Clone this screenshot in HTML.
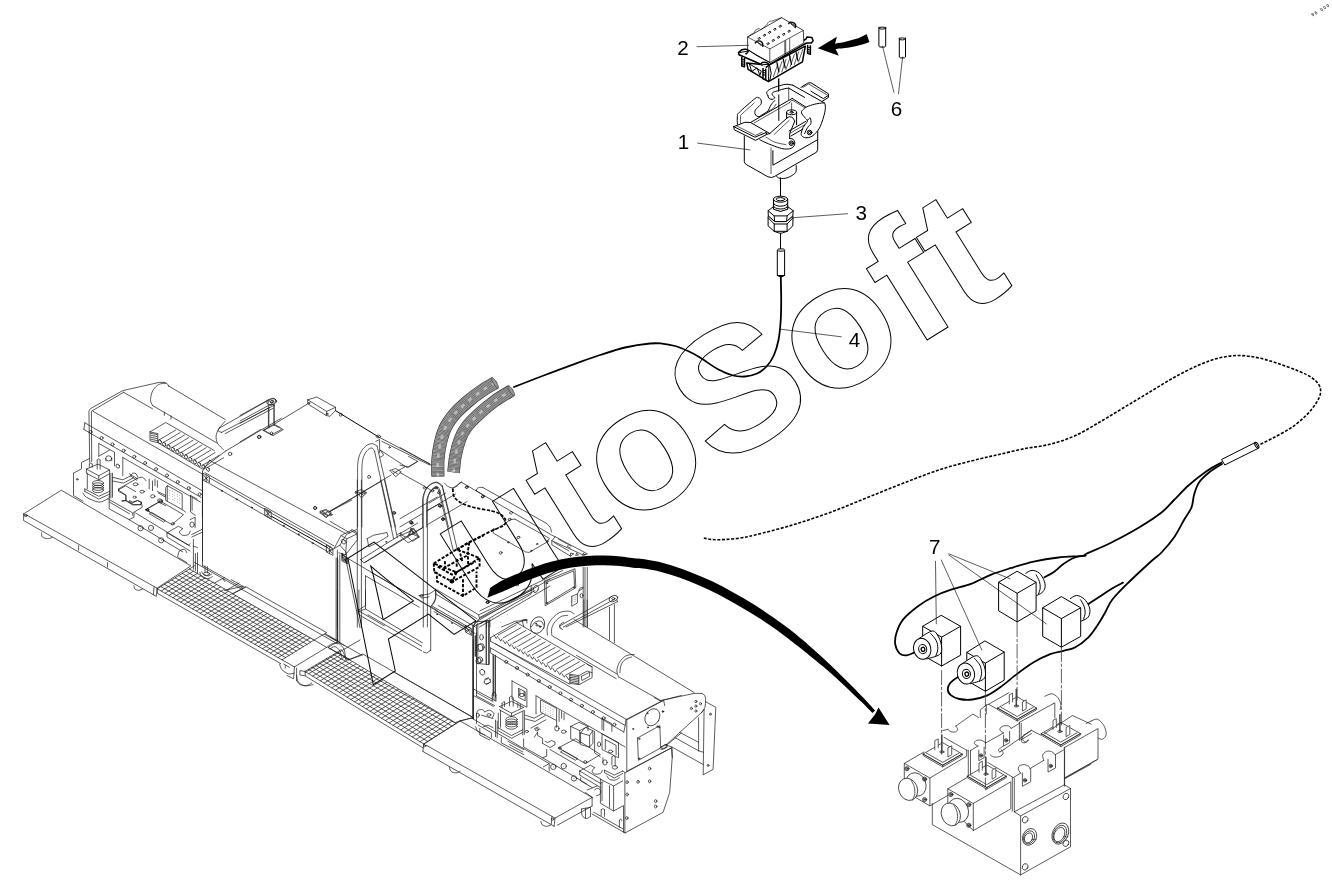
<!DOCTYPE html>
<html lang="en"><head><meta charset="utf-8"><title>Parts diagram</title><style>
html,body{margin:0;padding:0;background:#fff}
body{width:1332px;height:884px;overflow:hidden;font-family:"Liberation Sans",sans-serif}
svg{display:block;position:absolute;left:0;top:0;filter:grayscale(1)}
.t{fill:none;stroke:#1c1c1c;stroke-width:.72;stroke-linejoin:round;stroke-linecap:round}
.tw{fill:#fff;stroke:#1c1c1c;stroke-width:.72;stroke-linejoin:round}
.m{fill:none;stroke:#000;stroke-width:1;stroke-linejoin:round;stroke-linecap:round}
.mw{fill:#fff;stroke:#000;stroke-width:1;stroke-linejoin:round}
.c{fill:none;stroke:#000;stroke-width:1.8;stroke-linecap:round;stroke-linejoin:round}
.k{fill:#000;stroke:none}
.wm{fill:none;stroke:#000;stroke-width:1}
text{font-family:"Liberation Sans",sans-serif;fill:#000}
</style></head><body>
<svg width="1332" height="884" viewBox="0 0 1332 884">
<polyline class="t" points="89.7,462.5 88.9,411 90.6,408.5 122.8,390.6 159.1,382.4 164,382.4" />
<path class="t" d="M164,382.4C164.5,382.6 166.2,382.9 167,383.5C167.8,384.2 168.7,386 169,386.5" />
<polyline class="t" points="91.7,461.7 91.4,411.3 123.6,392.3" />
<polyline class="t" points="123.6,392.3 152.5,408.8" />
<polyline class="t" points="93,411.3 201.7,473.7" />
<polyline class="t" points="84.8,422.8 202.4,490.9" />
<polyline class="t" points="83.9,429.5 201.2,497.5" />
<polyline class="t" points="84.8,422.8 83.9,429.5" />
<circle class="t" cx="90.6" cy="431.9" r="1.5" />
<circle class="t" cx="101.6" cy="438" r="1.5" />
<circle class="t" cx="112.5" cy="444.3" r="1.5" />
<circle class="t" cx="123.6" cy="450.6" r="1.5" />
<circle class="t" cx="134.3" cy="456.7" r="1.5" />
<circle class="t" cx="145.1" cy="463" r="1.5" />
<circle class="t" cx="156.1" cy="469.1" r="1.5" />
<circle class="t" cx="167" cy="475.4" r="1.5" />
<circle class="t" cx="177.8" cy="482" r="1.5" />
<circle class="t" cx="188.8" cy="488.1" r="1.5" />
<circle class="t" cx="199.6" cy="494.2" r="1.5" />
<path class="t" d="M152.5,405.5C152.2,404.5 150.4,402.2 150.5,399.7C150.6,397.3 151.4,393.2 152.8,390.6C154.2,388.1 156.6,385.8 158.8,384.5C160.9,383.3 164.5,383.4 165.7,383.2" />
<polyline class="t" points="152.5,405.5 216.9,443" />
<polyline class="t" points="168.2,385.7 225.2,419.5" />
<path class="t" d="M225.2,421.2C224.1,422.4 220.4,426.2 218.9,428.6C217.4,431.1 216.3,433.6 216.1,436.1C215.9,438.5 216.5,441.2 217.7,443.5C219,445.8 222.5,448.6 223.5,449.6" />
<polyline class="t" points="164.4,412.1 164.4,415.4" />
<polyline class="t" points="171,415.9 171,419.2" />
<polyline class="t" points="219.4,428.1 268.4,400.2" />
<polyline class="t" points="221.5,432.4 274.7,405" />
<polyline class="t" points="225.2,433.6 273,408.3" />
<path class="t" d="M219.4,428.1C219.2,428.6 217.9,430.1 218.2,430.8C218.6,431.5 221,432.2 221.5,432.4" />
<ellipse class="t" cx="271.9" cy="401.7" rx="4.3" ry="2.8" transform="rotate(-30 271.9 401.7)" />
<ellipse class="t" cx="271.9" cy="401.7" rx="1.6" ry="1" transform="rotate(-30 271.9 401.7)" />
<polyline class="t" points="268.9,408.3 268.9,427.8" />
<polyline class="t" points="274.2,405.5 274.2,425.3" />
<polyline class="t" points="264,430.3 274.7,424.5 280,427.3" />
<polyline class="t" points="264,430.3 271.7,434.7 281.3,429.5" />
<polyline class="t" points="150,431.9 165.7,422.5 214.4,450.6" />
<polyline class="t" points="150,431.9 150,440.7 157.8,442.7 157.8,433.6 150,431.9" />
<polyline class="t" points="150.8,433.3 157.4,434.7" />
<polyline class="t" points="150.8,435.2 157.4,436.7" />
<polyline class="t" points="150.8,437.2 157.4,438.7" />
<polyline class="t" points="150.8,439.2 157.4,440.7" />
<polyline class="t" points="159.1,440 175.6,430.1" />
<ellipse class="t" cx="159.8" cy="441.7" rx="1.4" ry="2.2" transform="rotate(-30 159.8 441.7)" />
<polyline class="t" points="163.5,442.5 180,432.6" />
<ellipse class="t" cx="164.1" cy="444.2" rx="1.4" ry="2.2" transform="rotate(-30 164.1 444.2)" />
<polyline class="t" points="167.8,445 184.4,435.1" />
<ellipse class="t" cx="168.5" cy="446.7" rx="1.4" ry="2.2" transform="rotate(-30 168.5 446.7)" />
<polyline class="t" points="172.2,447.6 188.7,437.6" />
<ellipse class="t" cx="172.9" cy="449.2" rx="1.4" ry="2.2" transform="rotate(-30 172.9 449.2)" />
<polyline class="t" points="176.6,450.1 193.1,440.2" />
<ellipse class="t" cx="177.3" cy="451.7" rx="1.4" ry="2.2" transform="rotate(-30 177.3 451.7)" />
<polyline class="t" points="181,452.6 197.5,442.7" />
<ellipse class="t" cx="181.6" cy="454.2" rx="1.4" ry="2.2" transform="rotate(-30 181.6 454.2)" />
<polyline class="t" points="185.4,455.1 201.9,445.2" />
<ellipse class="t" cx="186" cy="456.7" rx="1.4" ry="2.2" transform="rotate(-30 186 456.7)" />
<polyline class="t" points="189.7,457.6 206.2,447.7" />
<ellipse class="t" cx="190.4" cy="459.2" rx="1.4" ry="2.2" transform="rotate(-30 190.4 459.2)" />
<polyline class="t" points="194.1,460.1 210.6,450.2" />
<ellipse class="t" cx="194.8" cy="461.8" rx="1.4" ry="2.2" transform="rotate(-30 194.8 461.8)" />
<polyline class="t" points="198.5,462.6 215,452.7" />
<ellipse class="t" cx="199.1" cy="464.3" rx="1.4" ry="2.2" transform="rotate(-30 199.1 464.3)" />
<polyline class="t" points="202.9,465.1 219.4,455.2" />
<ellipse class="t" cx="203.5" cy="466.8" rx="1.4" ry="2.2" transform="rotate(-30 203.5 466.8)" />
<polyline class="t" points="207.2,467.6 223.7,457.7" />
<ellipse class="t" cx="207.9" cy="469.3" rx="1.4" ry="2.2" transform="rotate(-30 207.9 469.3)" />
<polyline class="t" points="157.8,442.7 202.4,469.1" />
<polyline class="t" points="203.7,467.8 225.2,451.3" />
<polyline class="t" points="225.2,451.3 260.7,430.3 281.3,418.2" />
<polyline class="t" points="202.4,473.2 202.4,517" />
<circle class="t" cx="230.1" cy="453.9" r="1.7" />
<circle class="t" cx="259.3" cy="436.9" r="1.7" />
<polyline class="t" points="98.8,443.5 98.8,456.2" />
<polyline class="t" points="98.8,443.5 114.5,452.2 114.5,465.8" />
<polyline class="t" points="122.8,457.5 122.8,475.7" />
<polyline class="t" points="122.8,457.5 200.4,502.1" />
<polyline class="t" points="98.8,456.2 109.5,450.1" />
<ellipse class="t" cx="108.7" cy="458.4" rx="3" ry="2.6" transform="rotate(0 108.7 458.4)" />
<polyline class="t" points="105.9,458.4 105.9,460.8" />
<polyline class="t" points="111.7,458.4 111.7,460.8" />
<ellipse class="t" cx="117.8" cy="466.1" rx="1.6" ry="2.2" transform="rotate(-30 117.8 466.1)" />
<polyline class="t" points="73.5,473.2 73.5,495.5 83.1,501.3" />
<polyline class="t" points="73.5,473.2 81.5,468.8 81.5,462.5 89.7,458.4" />
<circle class="t" cx="77.3" cy="479.3" r="0.8" />
<polyline class="t" points="97.2,460 97.2,469.1" />
<polyline class="t" points="100.1,460 100.1,469.1" />
<path class="t" d="M97.2,460C97.4,459.8 98.2,458.9 98.6,458.9C99.1,458.9 99.9,459.8 100.1,460" />
<polyline class="t" points="89.4,464.1 89.4,467.4" />
<polyline class="t" points="92.2,464.1 92.2,467.4" />
<path class="t" d="M89.4,464.1C89.6,464 90.3,463.1 90.7,463.1C91.2,463.1 92,464 92.2,464.1" />
<polyline class="t" points="86.4,469.1 98.8,475.7 109.5,469.9 98,464.1 86.4,469.1" />
<polyline class="t" points="86.4,469.1 86.4,473.2 98.8,479.8 109.5,473.7 109.5,469.9" />
<polyline class="t" points="98.8,475.7 98.8,479.8" />
<ellipse class="t" cx="98" cy="483.1" rx="5.5" ry="2.6" transform="rotate(0 98 483.1)" />
<ellipse class="t" cx="98" cy="485.4" rx="5.5" ry="2.6" transform="rotate(0 98 485.4)" />
<ellipse class="t" cx="98" cy="487.8" rx="5.5" ry="2.6" transform="rotate(0 98 487.8)" />
<ellipse class="t" cx="98" cy="490.1" rx="5.5" ry="2.6" transform="rotate(0 98 490.1)" />
<polyline class="t" points="87.3,473.2 87.3,488.9" />
<polyline class="t" points="109.5,474 109.5,497.2" />
<polyline class="t" points="110.9,473.2 110.9,498" />
<polyline class="t" points="112.5,473.2 112.5,497.2" />
<polyline class="t" points="84.8,488.9 98.8,496.3 109.5,491.4" />
<polyline class="t" points="84.8,491.4 98.8,499.1 109.5,494.2" />
<polyline class="t" points="84.8,488.9 84.8,491.4" />
<path class="t" d="M83.1,493C83.7,493.7 83.8,495.7 86.4,497.2C89,498.7 95.2,501.8 98.8,502.1C102.4,502.4 106.4,499.4 107.9,498.8" />
<polyline class="t" points="112.5,477.3 122.8,479.8 131,475.7" />
<polyline class="t" points="112.5,481 123.6,483.1 133.5,477.7" />
<path class="t" d="M131,475.7C131.3,475.3 131.8,473.6 132.7,473.2C133.5,472.9 135.1,473.2 136,473.7C136.8,474.3 137.3,476.1 137.6,476.5" />
<polyline class="t" points="129.4,473.7 137.6,479" />
<polyline class="t" points="130.2,475.7 136.8,480.3" />
<polyline class="t" points="118.6,488.9 137.6,478.2" />
<polyline class="t" points="118.6,488.9 118.6,491.4 126.1,495.5 126.1,500.5 121.9,500.5" />
<polyline class="t" points="126.1,500.5 133.5,504.6 140.9,504.6 141.3,502.1 137.6,500.5 132.7,502.1 129.4,500.5" />
<path class="t" d="M137.6,478.2C138.4,478 141.2,476.9 142.6,477.3C144,477.8 145.3,480.1 145.9,480.7" />
<polyline class="t" points="107.9,498.8 132.7,512.9 132.7,515.3" />
<polyline class="t" points="109.5,502.1 129.4,513.7" />
<ellipse class="t" cx="142.1" cy="491.7" rx="2.2" ry="1.4" transform="rotate(0 142.1 491.7)" />
<ellipse class="t" cx="134.6" cy="497.2" rx="1.6" ry="1.1" transform="rotate(0 134.6 497.2)" />
<ellipse class="t" cx="135.6" cy="484.3" rx="2.4" ry="1.5" transform="rotate(0 135.6 484.3)" />
<polyline class="t" points="149.2,479 149.2,488.9" />
<polyline class="t" points="152.5,481 152.5,490.6" />
<polyline class="t" points="155,479 155,485.6" />
<polyline class="t" points="157.4,480.7 157.4,487.3" />
<ellipse class="t" cx="152.8" cy="496.3" rx="2.2" ry="1.6" transform="rotate(0 152.8 496.3)" />
<ellipse class="t" cx="159.9" cy="500.5" rx="2.4" ry="1.6" transform="rotate(0 159.9 500.5)" />
<polyline class="t" points="157.4,491.4 165.7,495.5" />
<polyline class="t" points="158.3,493 165.7,497.2" />
<polyline class="t" points="167.3,485.6 182.2,493.9 182.2,509.6 167.3,501.3 167.3,485.6 165.7,487.6 165.7,500.5 167.3,501.3" />
<circle class="k" cx="169.8" cy="490.2" r="0.3" />
<circle class="k" cx="169.8" cy="492.9" r="0.3" />
<circle class="k" cx="169.8" cy="495.5" r="0.3" />
<circle class="k" cx="169.8" cy="498.2" r="0.3" />
<circle class="k" cx="172.3" cy="491.6" r="0.3" />
<circle class="k" cx="172.3" cy="494.2" r="0.3" />
<circle class="k" cx="172.3" cy="496.8" r="0.3" />
<circle class="k" cx="172.3" cy="499.5" r="0.3" />
<circle class="k" cx="174.8" cy="492.9" r="0.3" />
<circle class="k" cx="174.8" cy="495.5" r="0.3" />
<circle class="k" cx="174.8" cy="498.2" r="0.3" />
<circle class="k" cx="174.8" cy="500.8" r="0.3" />
<circle class="k" cx="177.3" cy="494.2" r="0.3" />
<circle class="k" cx="177.3" cy="496.8" r="0.3" />
<circle class="k" cx="177.3" cy="499.5" r="0.3" />
<circle class="k" cx="177.3" cy="502.1" r="0.3" />
<circle class="k" cx="179.7" cy="495.5" r="0.3" />
<circle class="k" cx="179.7" cy="498.2" r="0.3" />
<circle class="k" cx="179.7" cy="500.8" r="0.3" />
<circle class="k" cx="179.7" cy="503.4" r="0.3" />
<polyline class="t" points="182.2,509.6 185.5,512" />
<polyline class="t" points="190.5,495.5 190.5,512 195.4,515.3" />
<polyline class="t" points="190.5,495.5 197.1,499.1" />
<polyline class="t" points="192.1,498 192.1,510.4" />
<polyline class="t" points="145.9,509.6 159.1,502.1 165.7,505.8" />
<polyline class="t" points="145.9,509.6 150,512" />
<circle class="t" cx="147.9" cy="509.6" r="0.8" />
<polyline class="t" points="23.6,513.9 61.3,490.2 190.9,565.9 157.1,588.2 27.4,515.5" />
<path class="t" d="M27.4,515.5C27,515.5 25.6,515.5 25,515.2C24.3,514.9 23.9,514.1 23.6,513.9" />
<polyline class="t" points="23.6,513.9 23.6,520.5 156.3,596.4 157.1,588.2" />
<polyline class="t" points="154.1,587 153.4,594.8" />
<ellipse class="t" cx="25.8" cy="515.5" rx="1.6" ry="1.1" transform="rotate(0 25.8 515.5)" />
<path class="t" d="M41.5,532.8C41.6,533.5 41.3,536 42.3,537C43.3,537.9 45.6,538.5 47.3,538.6C48.9,538.7 51.4,537.7 52.2,537.5" />
<path class="t" d="M134,585.7C134.1,586.2 134,588.2 134.8,589C135.6,589.8 137.6,590.3 138.9,590.3C140.2,590.3 141.9,589.2 142.5,589" />
<polyline class="t" points="78.6,545.7 78.6,550.2" />
<polyline class="t" points="107.5,562.6 107.5,567.2" />
<polyline class="t" points="109.2,496.5 109.2,508.9 129,519.6 134,517.2 134,512.2" />
<polyline class="t" points="118.3,489.9 125.7,485.8 135.6,491.6" />
<polyline class="t" points="118.3,489.9 125.7,494.9 125.7,500.6 122.4,501.5" />
<polyline class="t" points="125.7,500.6 132.3,504.8 140.6,504.8 141.4,502.3 137.3,500.6 132.3,503.1 129,501.5" />
<polyline class="t" points="134,512.2 142.2,507.3 141.4,502.3" />
<polyline class="t" points="135.6,513 190.1,546.1" />
<polyline class="t" points="129,519.6 182.7,551.8" />
<polyline class="t" points="145.5,509.7 160.4,501.1 183.5,514.7 171.9,524.6 145.5,509.7" />
<polyline class="t" points="149.6,513.9 163.7,522.1 165.3,520.5 151.3,512.2 149.6,513.9" />
<ellipse class="t" cx="140.6" cy="528.2" rx="2.6" ry="2.6" transform="rotate(0 140.6 528.2)" />
<ellipse class="t" cx="151" cy="527.9" rx="2.6" ry="2.6" transform="rotate(0 151 527.9)" />
<ellipse class="t" cx="161.2" cy="540.3" rx="2.6" ry="2.6" transform="rotate(0 161.2 540.3)" />
<circle class="k" cx="140.6" cy="528.2" r="0.4" />
<circle class="k" cx="151" cy="527.9" r="0.4" />
<circle class="k" cx="161.2" cy="540.3" r="0.4" />
<ellipse class="t" cx="160.4" cy="501.5" rx="2" ry="1.4" transform="rotate(0 160.4 501.5)" />
<ellipse class="t" cx="172.8" cy="523.8" rx="1.6" ry="1.2" transform="rotate(0 172.8 523.8)" />
<ellipse class="t" cx="147.5" cy="510.1" rx="1.3" ry="1" transform="rotate(0 147.5 510.1)" />
<polyline class="t" points="167,532.8 178.5,526.2 182.7,528.7" />
<path class="t" d="M182.7,528.7C182.1,529.3 179.4,530.9 179.4,532C179.4,533.1 181.2,534.9 182.7,535.3C184.2,535.7 187.2,535.2 188.5,534.5C189.7,533.8 189.8,531.7 190.1,531.2" />
<polyline class="t" points="167,532.8 167,537 190.1,551" />
<polyline class="t" points="167,532.8 188.5,545.2 190.1,543.6" />
<path class="t" d="M177.7,556.8C178,555.8 178.3,552.3 179.4,551C180.5,549.8 183.1,549.1 184.3,549.4C185.6,549.6 186.4,552.1 186.8,552.7" />
<polyline class="t" points="178.5,557.6 186.8,562.6" />
<polyline class="t" points="202.5,480 202.5,566.2" />
<polyline class="t" points="197.5,552.7 197.5,572.5" />
<polyline class="t" points="195.4,553.5 195.4,570.8" />
<polyline class="t" points="193.4,546.1 193.4,569.2" />
<ellipse class="t" cx="192.1" cy="524.6" rx="2.2" ry="2.6" transform="rotate(0 192.1 524.6)" />
<polyline class="t" points="190.1,519.6 195.1,517.2 195.1,527.9" />
<polyline class="t" points="191.8,534.5 201.7,529.5" />
<polyline class="t" points="191.8,537 201.7,532.5" />
<polyline class="t" points="193.4,539.5 193.4,546.1 197.5,547.7" />
<path class="t" d="M200,572.5C200.3,573.2 200.4,575.6 201.7,576.6C202.9,577.7 205.7,578.8 207.4,578.8C209.2,578.8 211.6,577 212.4,576.6" />
<path class="t" d="M201.7,571.7C202.1,572.2 203,574.3 204.1,575C205.2,575.7 207,575.9 208.3,575.8C209.5,575.7 211,574.4 211.6,574.1" />
<ellipse class="t" cx="206.6" cy="573.8" rx="3" ry="1.6" transform="rotate(0 206.6 573.8)" />
<polyline class="t" points="205,565.9 205,572.5" />
<polyline class="t" points="207.4,566.7 207.4,572.8" />
<polyline class="t" points="214.1,583.2 224.8,577.4" />
<polyline class="t" points="222.8,578.8 224.8,581.6" />
<polyline class="t" points="240,415.5 268.9,399.5" />
<polyline class="t" points="240,421 272.2,403.5" />
<polyline class="t" points="240,423.3 269.7,407.3" />
<ellipse class="t" cx="271.7" cy="401.8" rx="5" ry="3" transform="rotate(-10 271.7 401.8)" />
<ellipse class="t" cx="271.7" cy="401.8" rx="1.8" ry="1.1" transform="rotate(0 271.7 401.8)" />
<polyline class="t" points="268.4,406.4 268.4,426.2" />
<polyline class="t" points="273.9,404.8 273.9,423.8" />
<polyline class="t" points="263.1,430.4 273,424.6 283.3,429.5 273,435.7 263.1,430.4" />
<circle class="t" cx="271.4" cy="433.2" r="1.3" />
<polyline class="t" points="240,441.9 260.6,429.5" />
<polyline class="t" points="274.7,423.8 307.7,403.9" />
<polyline class="t" points="307.7,399.8 316.8,397 335.5,407.3 326.7,411.4 307.7,399.8" />
<polyline class="t" points="307.7,399.8 307.7,403.9 326.2,415.5 326.7,411.4" />
<polyline class="t" points="335.5,407.3 335.5,410.6 330,416.3 326.2,415.5" />
<circle class="t" cx="309" cy="403.1" r="0.8" />
<circle class="t" cx="327.2" cy="413.9" r="0.8" />
<polyline class="m" points="335.5,410.6 378.7,437" />
<polyline class="t" points="378.7,437 429.6,463.7" />
<polyline class="t" points="382,441.4 429.9,465.1" />
<circle class="t" cx="340.7" cy="414.7" r="1.5" />
<ellipse class="t" cx="378.4" cy="436.5" rx="2.2" ry="1.4" transform="rotate(0 378.4 436.5)" />
<polyline class="t" points="329.2,512.1 391.1,475" />
<polyline class="t" points="398.5,470.5 405.2,466.7" />
<polyline class="t" points="320.1,511.3 325.9,509.3 331.3,512.6 325.9,517.6 320.1,511.3" />
<polyline class="t" points="322.6,511.6 327.5,514.6" />
<polyline class="t" points="323.4,514.3 328.4,511.3" />
<polyline class="t" points="355.6,491.5 361.4,489.5 366.8,492.8 361.4,497.8 355.6,491.5" />
<polyline class="t" points="358.1,491.8 363,494.8" />
<polyline class="t" points="358.9,494.5 363.9,491.5" />
<polyline class="t" points="390,470.5 395.7,468.5 401.2,471.8 395.7,476.8 390,470.5" />
<polyline class="t" points="392.4,470.8 397.4,473.8" />
<polyline class="t" points="393.3,473.5 398.2,470.5" />
<polyline class="t" points="380.4,450.2 407.1,467.5 418,461.3" />
<polyline class="t" points="380.4,450.2 383.7,455.1 379.6,457.6" />
<polyline class="t" points="379.6,440.3 379.6,452.7" />
<polyline class="t" points="375.8,441.4 379.6,439.5" />
<circle class="t" cx="389.5" cy="447.4" r="0.7" />
<circle class="t" cx="259" cy="437" r="1.5" />
<circle class="t" cx="369.1" cy="476.9" r="1.5" />
<circle class="t" cx="315.1" cy="508" r="1.5" />
<circle class="t" cx="393.9" cy="512.9" r="1.5" />
<circle class="t" cx="410.9" cy="522.4" r="1.5" />
<circle class="t" cx="443.1" cy="519.1" r="1.5" />
<circle class="t" cx="439.8" cy="505.8" r="1.5" />
<path class="t" d="M357.6,527C357.6,519 357.5,489.8 357.6,479.1C357.6,468.4 357.4,467 357.9,462.6C358.4,458.2 359.2,455.4 360.6,452.7C361.9,449.9 363.9,447.6 365.8,446.1C367.8,444.5 370.3,443.6 372.1,443.6C374,443.6 376.3,445.6 377.1,446.1" />
<polyline class="t" points="377.1,446.1 395.6,527" />
<path class="t" d="M361.9,527C361.9,519 361.8,489.7 361.9,479.1C361.9,468.5 361.8,467.4 362.2,463.4C362.6,459.4 363.2,457.4 364.2,455.1C365.2,452.9 366.7,450.9 368,449.7C369.3,448.5 371,447.8 372.1,448C373.2,448.3 374.2,450.8 374.6,451.3" />
<polyline class="t" points="374.6,451.3 391.4,527" />
<path class="t" d="M422.5,527C422.5,523.4 422.4,510.7 422.5,505.5C422.6,500.3 422.4,498.9 423.3,495.6C424.3,492.4 426.1,488.3 428.3,486C430.5,483.8 434.2,482.1 436.5,482.1C438.9,482 441.3,485.1 442.3,485.7" />
<polyline class="t" points="442.3,485.7 452.6,527" />
<path class="t" d="M426.6,527C426.6,523.5 426.5,511.2 426.6,506.3C426.8,501.5 426.6,500.8 427.4,498.1C428.3,495.4 429.9,492.2 431.6,490.3C433.2,488.4 436,486.7 437.4,486.7C438.7,486.7 439.4,489.7 439.8,490.3" />
<polyline class="t" points="439.8,490.3 448.4,527" />
<path class="t" d="M429.9,492.3C430.5,491.8 432,489.7 433.2,489C434.5,488.3 436.7,488.3 437.4,488.2" />
<polyline class="t" points="203.1,565.7 337.7,641.7" />
<polyline class="t" points="337.7,559.5 337.7,641.7" />
<polyline class="t" points="336.1,558.1 336.1,640.4" />
<polyline class="t" points="224.6,590.5 242.8,586.2" />
<polyline class="t" points="231.2,579.6 338.5,641.2" />
<polyline class="t" points="334.4,547.9 341,535.5 350.9,530.6 357,533.9 357.5,539.6 345.5,554.8 338.9,552.8" />
<polyline class="t" points="341,535.5 346.8,538.8 357,533.9" />
<polyline class="t" points="346.8,538.8 345.5,554.8" />
<ellipse class="t" cx="343.5" cy="541.6" rx="1.8" ry="2.6" transform="rotate(-30 343.5 541.6)" />
<polyline class="t" points="350.9,530.6 351.8,529.4 357.5,532.7" />
<polyline class="t" points="341.8,554.5 347.6,557.8 347.6,564.1 341.8,560.8 341.8,554.5" />
<polyline class="t" points="342.7,556.2 346.8,562.4" />
<polyline class="t" points="342.7,560.8 346.8,557.8" />
<circle class="t" cx="315.1" cy="507.9" r="1.5" />
<polyline class="t" points="320,512.9 325.3,510.2 331.1,514 326.2,517.3 320,512.9" />
<polyline class="t" points="322.4,512.9 327.8,515.7" />
<polyline class="t" points="329.5,511.6 351.8,500" />
<polyline class="t" points="209.7,460.4 346.1,533.7" />
<polyline class="t" points="204.9,472.6 333.9,545.9" />
<polyline class="t" points="209.7,478 331.2,547.2" />
<polyline class="t" points="210.4,484.1 327.1,551.3" />
<polyline class="m" points="271.4,516.3 327.1,547.5" />
<polyline class="t" points="202.9,473.3 209.4,476.6 209.4,483.4 202.9,480 202.9,473.3" />
<polyline class="t" points="203.7,475.2 208.6,481.4" />
<polyline class="t" points="203.7,480 208.6,476.8" />
<polyline class="t" points="206.2,474.9 206.2,481.7" />
<polyline class="t" points="264.7,508.5 271.2,511.9 271.2,518.7 264.7,515.3 264.7,508.5" />
<polyline class="t" points="265.5,510.4 270.4,516.7" />
<polyline class="t" points="265.5,515.3 270.4,512.1" />
<polyline class="t" points="267.9,510.2 267.9,517" />
<polyline class="t" points="326.4,545.2 332.9,548.6 332.9,555.4 326.4,552 326.4,545.2" />
<polyline class="t" points="327.2,547.1 332.1,553.3" />
<polyline class="t" points="327.2,552 332.1,548.7" />
<polyline class="t" points="329.7,546.8 329.7,553.6" />
<circle class="t" cx="221.9" cy="490.9" r="0.6" />
<circle class="t" cx="236.8" cy="499.3" r="0.6" />
<circle class="t" cx="251.8" cy="507.5" r="0.6" />
<circle class="t" cx="283.7" cy="525.9" r="0.6" />
<circle class="t" cx="298.6" cy="534.3" r="0.6" />
<circle class="t" cx="312.8" cy="543.2" r="0.6" />
<polyline class="t" points="202.5,471.2 202.5,560.8" />
<polyline class="t" points="202.5,471.2 209.7,460.4" />
<polyline class="t" points="357.3,480 357.3,627" />
<polyline class="t" points="361.4,480 361.4,627" />
<polyline class="t" points="380.4,480 393.6,538.6" />
<polyline class="t" points="384.5,480 397.4,537.8" />
<polyline class="t" points="367.2,538.6 373.3,535.3 387,532.5 388.1,536.2 379.5,541.4 368.8,546.9 367.2,538.6" />
<polyline class="t" points="360.6,559.6 401,534.5 405.6,537.1 363.9,562.9 360.6,559.6" />
<polyline class="t" points="401,534.5 401,532.5 397.4,534.5" />
<polyline class="t" points="407.6,537 410.9,528.7 414.2,529.5 419.2,537 412.6,541.4 407.6,537" />
<polyline class="t" points="410.9,528.7 413.4,534.5 419.2,537" />
<ellipse class="t" cx="386.2" cy="541.9" rx="0.6" ry="0.5" transform="rotate(0 386.2 541.9)" />
<path class="t" d="M423.3,627C423.3,608 423.3,534.8 423.3,513C423.4,491.3 423,500.8 423.6,496.5C424.3,492.2 425.4,489.8 427.4,487.4C429.4,485.1 433.2,482.6 435.7,482.5C438.2,482.3 441.2,485.9 442.3,486.6" />
<polyline class="t" points="442.3,486.6 457.5,550.2" />
<path class="t" d="M427.4,627C427.4,608 427.4,534.5 427.4,513C427.5,491.6 427.2,501.9 427.8,498.2C428.3,494.5 429.4,492.6 430.7,490.7C432.1,488.9 434.4,487 435.7,486.9C437,486.9 438,489.7 438.5,490.2" />
<polyline class="t" points="438.5,490.2 453.5,551.3" />
<polyline class="t" points="419.2,595.6 429.1,594 435.7,589.8" />
<polyline class="t" points="419.2,595.6 421.7,598.1 429.1,596.9" />
<polyline class="t" points="431.6,605.5 435.7,598.9 435.7,589" />
<polyline class="t" points="330,511 380.4,481.7" />
<polyline class="t" points="330,521.3 349.8,532.8" />
<polyline class="t" points="349.8,532.8 356.4,529.5" />
<polyline class="t" points="330,551 339.9,545.2 346.5,534.5 349.8,532.8" />
<polyline class="t" points="339.9,545.2 346.5,552.7" />
<polyline class="t" points="364.7,562.6 422.5,527.9" />
<polyline class="t" points="405.6,537.1 423.3,527.1" />
<polyline class="t" points="427.4,524.6 467.1,501.5" />
<polyline class="t" points="427.4,510.6 455.5,494" />
<polyline class="t" points="429.1,503.1 445.6,493.2" />
<ellipse class="t" cx="443.1" cy="519.3" rx="1.3" ry="1" transform="rotate(0 443.1 519.3)" />
<ellipse class="t" cx="411.8" cy="523.3" rx="1.3" ry="1" transform="rotate(0 411.8 523.3)" />
<ellipse class="t" cx="394.4" cy="513" rx="1.3" ry="1" transform="rotate(0 394.4 513)" />
<ellipse class="t" cx="330.8" cy="514.7" rx="1.3" ry="1" transform="rotate(0 330.8 514.7)" />
<ellipse class="t" cx="356.4" cy="492.9" rx="1.3" ry="1" transform="rotate(0 356.4 492.9)" />
<ellipse class="t" cx="363.9" cy="492.9" rx="1.3" ry="1" transform="rotate(0 363.9 492.9)" />
<ellipse class="t" cx="439.8" cy="505.6" rx="1.3" ry="1" transform="rotate(0 439.8 505.6)" />
<polyline class="t" points="475.3,622.4 550,579.1" />
<polyline class="t" points="479.5,627 550,586" />
<polyline class="t" points="435.7,594 477,618.7" />
<polyline class="t" points="346.5,557.6 475.3,633.6" />
<polyline class="t" points="337.4,557.6 337.4,627" />
<polyline class="t" points="346.5,554.3 346.5,559.3" />
<polyline class="t" points="342.4,554.3 346.5,557.6 346.5,562.6 342.4,559.3 342.4,554.3" />
<polyline class="t" points="358.1,610.5 384.5,626" />
<polyline class="t" points="365.5,575.8 365.5,605.5 358.1,610.5" />
<polyline class="t" points="365.5,575.8 419.2,607.2" />
<polyline class="t" points="435.7,610.5 465.4,627" />
<polyline class="t" points="438.2,605.5 475.3,627" />
<ellipse class="t" cx="487.7" cy="602.2" rx="1.4" ry="1.1" transform="rotate(0 487.7 602.2)" />
<ellipse class="t" cx="421.7" cy="595.6" rx="1.4" ry="1.1" transform="rotate(0 421.7 595.6)" />
<polyline class="t" points="371.3,572.5 437.3,610.5" />
<ellipse class="t" cx="487.4" cy="602.2" rx="1.3" ry="1" transform="rotate(0 487.4 602.2)" />
<ellipse class="t" cx="517.2" cy="584.9" rx="1.3" ry="1" transform="rotate(0 517.2 584.9)" />
<polyline class="t" points="480,610.8 562.6,570.5" />
<polyline class="t" points="480,617.4 533.2,587.7" />
<polyline class="t" points="531.2,585.7 531.2,594 480,623.7" />
<polyline class="t" points="583.2,567.5 583.2,627" />
<polyline class="t" points="587.3,567.5 587.3,627" />
<polyline class="t" points="585,567.5 585,627" />
<polyline class="t" points="544.4,581.1 575,568.7 575.8,587.7 545.2,605.8 544.4,581.1" />
<polyline class="t" points="546.1,582.4 573.8,570.8 574.5,586.5 546.6,603.5 546.1,582.4" />
<ellipse class="t" cx="546.9" cy="583.2" rx="0.8" ry="0.6" transform="rotate(0 546.9 583.2)" />
<ellipse class="t" cx="574.1" cy="587.3" rx="0.8" ry="0.6" transform="rotate(0 574.1 587.3)" />
<ellipse class="t" cx="546.6" cy="603" rx="0.8" ry="0.6" transform="rotate(0 546.6 603)" />
<ellipse class="t" cx="535.8" cy="589" rx="2.4" ry="3.8" transform="rotate(25 535.8 589)" />
<polyline class="t" points="571.7,596.4 577.4,594 579.1,590.7 583.2,588.2" />
<polyline class="t" points="571.7,596.4 571.7,606.3 577.4,603 577.4,594" />
<ellipse class="t" cx="581.6" cy="595.6" rx="1.5" ry="2.2" transform="rotate(0 581.6 595.6)" />
<circle class="k" cx="572.8" cy="598.1" r="0.3" />
<circle class="k" cx="572.8" cy="600.1" r="0.3" />
<circle class="k" cx="572.8" cy="602" r="0.3" />
<circle class="k" cx="574.1" cy="597.6" r="0.3" />
<circle class="k" cx="574.1" cy="599.6" r="0.3" />
<circle class="k" cx="574.1" cy="601.6" r="0.3" />
<circle class="k" cx="575.5" cy="597.1" r="0.3" />
<circle class="k" cx="575.5" cy="599.1" r="0.3" />
<circle class="k" cx="575.5" cy="601.1" r="0.3" />
<path class="t" d="M579.1,590.7C579.2,590.2 579.2,588.7 579.9,588.2C580.6,587.6 582.7,587.5 583.2,587.3" />
<polyline class="t" points="560.9,625.3 611.8,596.4" />
<polyline class="t" points="565.9,627 617.4,601.7" />
<polyline class="t" points="563.4,627 614.6,599.2" />
<ellipse class="t" cx="613.4" cy="598.6" rx="4.5" ry="2.8" transform="rotate(-20 613.4 598.6)" />
<ellipse class="t" cx="613.4" cy="598.6" rx="1.6" ry="1" transform="rotate(0 613.4 598.6)" />
<path class="t" d="M560.6,625.3C560.4,625.7 559.3,627.1 559.6,627.8C559.9,628.5 562.1,629.2 562.6,629.5" />
<path class="t" d="M531.2,627C531.9,626.2 533.7,623 535.3,622C537,621.1 539.7,620.7 541.1,621.2C542.5,621.8 543.2,624.6 543.6,625.3" />
<ellipse class="t" cx="537" cy="625.3" rx="1" ry="0.8" transform="rotate(0 537 625.3)" />
<ellipse class="t" cx="540.3" cy="626.7" rx="0.8" ry="0.6" transform="rotate(0 540.3 626.7)" />
<polyline class="t" points="480,623.7 486.6,620.4 486.6,627" />
<polyline class="t" points="489.9,619.1 489.9,627" />
<polyline class="t" points="501.5,627 515.5,621.2 527.1,620.4" />
<polyline class="t" points="522.1,619.6 523.8,627" />
<circle class="k" cx="492.4" cy="617.9" r="0.3" />
<circle class="k" cx="500.6" cy="622.4" r="0.3" />
<circle class="k" cx="507.3" cy="614.6" r="0.3" />
<circle class="k" cx="522.6" cy="600.2" r="0.3" />
<polyline class="t" points="461.3,482.2 554.6,536.7" />
<path class="t" d="M461.3,482.2C460.8,482.5 459.6,483.3 458.5,484.1C457.4,484.9 455.6,486.2 454.5,487C453.5,487.8 452.5,488.7 452,489" />
<path class="t" d="M476.6,490.9C476.6,490.6 476.3,489.4 476.8,488.8C477.3,488.2 478.4,487.6 479.4,487.4C480.4,487.2 482.2,487.5 482.8,487.5" />
<polyline class="t" points="482.8,487.5 546.2,523.2" />
<path class="t" d="M546.2,523.2C546.8,523.8 549.2,525.7 550.1,527.1C551,528.6 551.2,531.2 551.5,532" />
<polyline class="t" points="476.6,490.9 483.9,495.5" />
<polyline class="t" points="555.2,536.7 587.4,553.9 583.5,555.1 551.8,540.7 555.2,536.7" />
<polyline class="t" points="551.8,540.7 551.8,544.7 570.5,556.2 573.5,553.9" />
<polyline class="t" points="558.6,539.2 567.6,544.1" />
<polyline class="t" points="568.8,544.7 571,546" />
<polyline class="t" points="554.1,542.4 568.8,550.9" />
<polyline class="t" points="570.5,556.2 570.5,553.1 573.5,553.9" />
<polyline class="t" points="576.7,553.1 575.6,555.4 578.4,555.1 576.7,553.1" />
<polyline class="t" points="583.5,553.5 582.1,555.1 585.2,554.8 583.5,553.5" />
<polyline class="t" points="568.8,544.7 567.1,546.4 570.5,548.1" />
<path class="t" d="M506.6,522.6C507.2,522.1 509.1,520.3 510.5,519.8C511.9,519.2 514.3,519.3 515,519.2" />
<polyline class="t" points="515,519.2 549.5,538.4 546.4,542.4 529.2,552.4 525.8,552 493.6,533.3 492.8,531.1 506.6,522.6" />
<ellipse class="t" cx="467" cy="487.2" rx="1.5" ry="1.2" transform="rotate(-20 467 487.2)" />
<ellipse class="t" cx="482.8" cy="496.6" rx="1.5" ry="1.2" transform="rotate(-20 482.8 496.6)" />
<ellipse class="t" cx="511.1" cy="512.8" rx="1.5" ry="1.2" transform="rotate(-20 511.1 512.8)" />
<ellipse class="t" cx="509.6" cy="519.5" rx="1.5" ry="1.2" transform="rotate(-20 509.6 519.5)" />
<ellipse class="t" cx="518.4" cy="537.5" rx="1.5" ry="1.2" transform="rotate(-20 518.4 537.5)" />
<ellipse class="t" cx="500.7" cy="552.9" rx="1.5" ry="1.2" transform="rotate(-20 500.7 552.9)" />
<ellipse class="t" cx="508.3" cy="542.4" rx="0.8" ry="0.6" transform="rotate(-20 508.3 542.4)" />
<ellipse class="t" cx="537.1" cy="544.1" rx="0.8" ry="0.6" transform="rotate(-20 537.1 544.1)" />
<ellipse class="t" cx="531.4" cy="550.9" rx="0.8" ry="0.6" transform="rotate(-20 531.4 550.9)" />
<ellipse class="t" cx="493.6" cy="529.4" rx="0.8" ry="0.6" transform="rotate(-20 493.6 529.4)" />
<ellipse class="t" cx="547.3" cy="541.3" rx="0.8" ry="0.6" transform="rotate(-20 547.3 541.3)" />
<polyline class="t" points="400,447.5 429.2,463.8" />
<polyline class="t" points="400,472.6 424.4,486.2" />
<polyline class="t" points="400,465.1 408.8,467.1 417.6,461.3 408.4,456.3" />
<path class="t" d="M444.8,483.4C445.2,483.9 446.3,485.4 447.5,486.2C448.8,486.9 450.7,487.8 452.3,487.8C453.8,487.8 455.8,486.9 457,486.2C458.3,485.4 459.3,483.7 459.7,483.2" />
<polyline class="t" points="459.7,483.2 461.4,482.2" />
<polyline class="t" points="400,518.7 437.3,497" />
<polyline class="t" points="400,526.9 421.7,514" />
<polyline class="t" points="427.1,510.6 439.4,503.8" />
<polyline class="t" points="400,533.7 417.6,523.1" />
<polyline class="t" points="424.4,486.2 431.5,490.5" />
<polyline class="t" points="429.2,463.8 431.9,465.5" />
<ellipse class="t" cx="424.4" cy="487.8" rx="1.3" ry="1" transform="rotate(-20 424.4 487.8)" />
<ellipse class="t" cx="432.6" cy="490.9" rx="1.3" ry="1" transform="rotate(-20 432.6 490.9)" />
<ellipse class="t" cx="436" cy="487.8" rx="1.3" ry="1" transform="rotate(-20 436 487.8)" />
<ellipse class="t" cx="438.7" cy="492.7" rx="1.3" ry="1" transform="rotate(-20 438.7 492.7)" />
<ellipse class="t" cx="440.7" cy="506.2" rx="1.3" ry="1" transform="rotate(-20 440.7 506.2)" />
<ellipse class="t" cx="442.8" cy="519" rx="1.3" ry="1" transform="rotate(-20 442.8 519)" />
<ellipse class="t" cx="411.5" cy="522.5" rx="1.3" ry="1" transform="rotate(-20 411.5 522.5)" />
<ellipse class="t" cx="466.5" cy="487.2" rx="1.3" ry="1" transform="rotate(-20 466.5 487.2)" />
<ellipse class="t" cx="482.8" cy="496.7" rx="1.3" ry="1" transform="rotate(-20 482.8 496.7)" />
<polyline class="t" points="400,535.7 408.1,542.8 419,536.6 411.5,530.7 400,535.7" />
<polyline class="t" points="409.5,535 411.5,528.9 414.9,533.7 409.5,535" />
<polyline class="t" points="411.5,528.9 413.6,528.2 417,533" />
<polyline class="t" points="473.2,626.4 473.2,718.9" />
<polyline class="t" points="476.5,624.8 476.5,695.8" />
<polyline class="t" points="486.4,621.5 486.4,664.7" />
<polyline class="t" points="489.4,620.6 489.4,664.1" />
<polyline class="t" points="473.2,626.4 486.4,620.6 489.4,620.6" />
<polyline class="t" points="476.5,695.8 494.7,705.7" />
<polyline class="t" points="473.2,718.9 460,711.5" />
<polyline class="t" points="476.5,692.5 493,701.6" />
<polyline class="t" points="493,654.5 493,699.1" />
<polyline class="t" points="495,656.2 495,700.7" />
<path class="t" d="M492.2,695C492.3,694.5 492.6,692.9 493,692.5C493.5,692.1 494.5,692.1 495,692.5C495.5,692.9 495.8,694.5 496,695" />
<polyline class="t" points="492.2,695 492.2,700.7" />
<polyline class="t" points="496,695 496,701.1" />
<ellipse class="t" cx="481.5" cy="637.2" rx="1.8" ry="2.8" transform="rotate(0 481.5 637.2)" />
<ellipse class="t" cx="479.8" cy="647.9" rx="3.2" ry="3.6" transform="rotate(0 479.8 647.9)" />
<ellipse class="t" cx="481.1" cy="647.1" rx="3.2" ry="3.6" transform="rotate(0 481.1 647.1)" />
<ellipse class="t" cx="478.5" cy="660.8" rx="2.6" ry="3" transform="rotate(0 478.5 660.8)" />
<ellipse class="t" cx="480.1" cy="659.8" rx="2.6" ry="3" transform="rotate(0 480.1 659.8)" />
<ellipse class="t" cx="482.3" cy="672.2" rx="2.4" ry="3" transform="rotate(-25 482.3 672.2)" />
<ellipse class="t" cx="487.3" cy="681.3" rx="3.4" ry="2.4" transform="rotate(-30 487.3 681.3)" />
<polyline class="t" points="484.8,679.3 488.4,677.6" />
<polyline class="t" points="486.4,684.2 490.6,682.2" />
<polyline class="t" points="476.5,633 476.5,657.8" />
<polyline class="t" points="475.2,635.5 475.2,656.2" />
<polyline class="t" points="490.6,637.7 514.5,623.5 526.1,619.8" />
<polyline class="t" points="516.2,622.3 592.1,666.9" />
<polyline class="t" points="490.6,637.7 490.6,641.3" />
<polyline class="t" points="490.6,641.3 569.8,684.2" />
<polyline class="t" points="523.6,619.5 526.9,619.5 526.9,623.1" />
<polyline class="t" points="498.3,635 516.2,624.8" />
<polyline class="t" points="503.2,637.9 521,627.6" />
<polyline class="t" points="508.1,640.7 525.9,630.5" />
<polyline class="t" points="512.9,643.5 530.8,633.3" />
<polyline class="t" points="517.8,646.4 535.6,636.1" />
<polyline class="t" points="522.7,649.2 540.5,639" />
<polyline class="t" points="527.5,652.1 545.4,641.8" />
<polyline class="t" points="532.4,654.9 550.3,644.7" />
<polyline class="t" points="537.3,657.7 555.1,647.5" />
<polyline class="t" points="542.2,660.6 560,650.3" />
<polyline class="t" points="547,663.4 564.9,653.2" />
<polyline class="t" points="551.9,666.3 569.7,656" />
<polyline class="t" points="556.8,669.1 574.6,658.9" />
<polyline class="t" points="561.7,671.9 579.5,661.7" />
<polyline class="t" points="566.5,674.8 584.4,664.5" />
<polyline class="t" points="493.9,635 496.2,638.6 497.5,636.3" />
<polyline class="t" points="498.4,637.6 500.7,641.2 502,638.9" />
<polyline class="t" points="502.9,640.2 505.3,643.8 506.6,641.5" />
<polyline class="t" points="507.5,642.7 509.8,646.4 511.1,644.1" />
<polyline class="t" points="512,645.3 514.3,649 515.7,646.6" />
<polyline class="t" points="516.6,647.9 518.9,651.5 520.2,649.2" />
<polyline class="t" points="521.1,650.5 523.4,654.1 524.7,651.8" />
<polyline class="t" points="525.6,653 528,656.7 529.3,654.4" />
<polyline class="t" points="530.2,655.6 532.5,659.3 533.8,656.9" />
<polyline class="t" points="534.7,658.2 537,661.8 538.4,659.5" />
<polyline class="t" points="539.3,660.8 541.6,664.4 542.9,662.1" />
<polyline class="t" points="543.8,663.4 546.1,667 547.4,664.7" />
<polyline class="t" points="548.4,665.9 550.7,669.6 552,667.3" />
<polyline class="t" points="552.9,668.5 555.2,672.1 556.5,669.8" />
<polyline class="t" points="557.4,671.1 559.8,674.7 561.1,672.4" />
<polyline class="t" points="562,673.7 564.3,677.3 565.6,675" />
<polyline class="t" points="566.5,676.2 568.8,679.9 570.2,677.6" />
<polyline class="t" points="569.8,674.3 569.8,683.4 578.9,684.6 578.9,675.6 569.8,674.3" />
<polyline class="t" points="570.3,675.6 578.6,677" />
<polyline class="t" points="570.3,677.3 578.6,678.6" />
<polyline class="t" points="570.3,678.9 578.6,680.3" />
<polyline class="t" points="570.3,680.6 578.6,681.9" />
<polyline class="t" points="570.3,682.2 578.6,683.6" />
<polyline class="t" points="578.9,675.6 587.2,671 592.1,672.7 592.1,677.6 579.2,684.6" />
<polyline class="t" points="581.4,676.3 589.6,672.3 589.6,676.3 581.9,680.6 581.4,676.3" />
<polyline class="t" points="587.2,664.4 592.1,666.9 592.1,672.7" />
<polyline class="t" points="495.5,643.8 626,719.2" />
<polyline class="t" points="490.6,647.9 625.2,725.5" />
<polyline class="t" points="493,654.5 623.8,732.1" />
<polyline class="t" points="490.6,647.9 490.6,652.8 493,654.5" />
<polyline class="t" points="626,719.2 625.2,725.5 623.8,732.1" />
<circle class="t" cx="506.2" cy="661.9" r="1.5" />
<circle class="t" cx="517" cy="668" r="1.5" />
<circle class="t" cx="527.7" cy="674.6" r="1.5" />
<circle class="t" cx="538.8" cy="680.9" r="1.5" />
<circle class="t" cx="549.7" cy="687" r="1.5" />
<circle class="t" cx="560.4" cy="693.3" r="1.5" />
<circle class="t" cx="571" cy="699.6" r="1.5" />
<circle class="t" cx="581.9" cy="705.7" r="1.5" />
<circle class="t" cx="592.9" cy="712" r="1.5" />
<circle class="t" cx="603.7" cy="718.1" r="1.5" />
<circle class="t" cx="614.4" cy="724.7" r="1.5" />
<circle class="k" cx="555.5" cy="690" r="0.3" />
<path class="t" d="M547.5,635C547.5,633.9 546.7,630.5 547.2,628.1C547.7,625.7 548.6,623.2 550.5,620.6C552.4,618.1 555.7,614.5 558.8,612.9C561.8,611.3 566.5,611 569,611.2C571.5,611.4 573.1,613.6 574,614" />
<path class="t" d="M551.7,634.4C551.7,633.3 551.3,630.2 551.8,628.1C552.4,626 553.4,623.7 555,621.8C556.5,619.9 559,617.6 561.1,616.5C563.2,615.4 566.6,615.6 567.7,615.4" />
<polyline class="t" points="574,619.5 694.1,692.5" />
<polyline class="t" points="551.7,635.5 616.9,674" />
<polyline class="t" points="619.4,677.3 661.8,701.1" />
<polyline class="t" points="576.4,655.3 616.1,678.6" />
<path class="t" d="M634.2,654.5C632.9,654.7 628.5,654.5 626,655.8C623.5,657.1 620.9,659.9 619.4,662.4C617.9,665 617,668.5 616.9,671C616.8,673.5 618.5,676.5 618.9,677.6" />
<path class="t" d="M631.8,657C630.7,657.4 626.9,658.1 625.2,659.5C623.4,660.8 621.9,663 621,665.2C620.1,667.4 620.1,671.4 619.9,672.7" />
<path class="t" d="M561.1,628.1C560.8,627.7 559.5,626.8 559.4,626.1C559.4,625.4 560,624.6 560.7,623.9C561.5,623.3 563.2,622.6 563.7,622.3" />
<polyline class="t" points="609.5,607.4 609.5,640" />
<polyline class="t" points="614.4,604.6 614.4,642.6" />
<polyline class="t" points="583.9,600 583.9,624.8" />
<polyline class="t" points="587.2,600 587.2,626.8" />
<polyline class="t" points="617.7,602 616.9,600" />
<ellipse class="t" cx="537.6" cy="625.1" rx="6.8" ry="8.6" transform="rotate(25 537.6 625.1)" />
<circle class="t" cx="536" cy="623.5" r="0.6" />
<circle class="t" cx="539.6" cy="626.4" r="0.6" />
<polyline class="t" points="626.8,719.2 663.5,700.1 681.3,695.5" />
<polyline class="t" points="663.5,700.1 664.8,705.7" />
<polyline class="t" points="512,680.9 512,699.1 526.9,707.3 526.9,689.2 512,680.9" />
<polyline class="t" points="518.6,688.4 525.2,691.7 525.2,700.7 518.6,697.4 518.6,688.4" />
<ellipse class="t" cx="521.9" cy="695" rx="2.5" ry="1.6" transform="rotate(0 521.9 695)" />
<polyline class="t" points="519.8,690 519.8,695" />
<polyline class="t" points="524.1,691.7 524.1,695.8" />
<polyline class="t" points="536,695.8 536,714" />
<polyline class="t" points="536,695.8 625.2,747" />
<polyline class="t" points="337.4,590 337.4,641.5" />
<polyline class="t" points="330,637.1 472.9,718.5" />
<polyline class="t" points="472.9,624.7 472.9,718.5" />
<polyline class="t" points="423.3,651.9 426.6,653.1 430.7,650.3" />
<polyline class="t" points="430.7,606.5 430.7,650.3" />
<path class="t" d="M430.7,606.5C431.3,606 433.2,604.9 434,603.2C434.9,601.6 435.4,598.8 435.7,596.6C436,594.4 435.7,591.1 435.7,590" />
<polyline class="t" points="358.9,590 358.9,614.8 421.7,650.8" />
<polyline class="t" points="365.5,590 365.5,609 422.5,642.8" />
<polyline class="t" points="358.9,611.5 365.5,609" />
<polyline class="t" points="368,614.8 421.7,646.2" />
<polyline class="t" points="431.6,605.7 470.4,628.3" />
<polyline class="t" points="434,611.5 467.4,631" />
<polyline class="t" points="437.3,590 478.6,614.8 479.5,618.4 473.7,625.5" />
<polyline class="t" points="478.6,614.8 531.8,590" />
<polyline class="t" points="479.5,618.4 534.8,590.8" />
<polyline class="t" points="465.4,625.5 471.7,628.8 471.7,635.4 465.4,632.1 465.4,625.5" />
<polyline class="t" points="466.3,627.2 470.7,633.8" />
<polyline class="t" points="466.3,632.1 470.7,628.8" />
<circle class="t" cx="437" cy="614.4" r="0.5" />
<circle class="t" cx="451.9" cy="623" r="0.5" />
<polyline class="t" points="475.3,621.7 488.5,621" />
<polyline class="t" points="473.7,625.5 475.3,621.7" />
<polyline class="t" points="477.8,623 477.8,663.5" />
<polyline class="t" points="488.5,621.4 488.5,664.6" />
<polyline class="t" points="486.1,622.2 486.1,663.5" />
<polyline class="t" points="477.8,663.5 488.5,664.6" />
<polyline class="t" points="475.3,636.2 475.3,656.1" />
<ellipse class="t" cx="487.7" cy="602.4" rx="1.6" ry="1.1" transform="rotate(0 487.7 602.4)" />
<polyline class="t" points="493.5,656.1 493.5,695.7" />
<polyline class="t" points="495.5,655.2 495.5,697.3" />
<polyline class="t" points="473.7,689.1 495.2,700.7" />
<polyline class="t" points="473.7,695.7 493.5,706.4" />
<polyline class="t" points="555,818.1 592.1,797.4" />
<polyline class="t" points="557.4,825.2 592.1,806" />
<polyline class="t" points="592.1,797.4 592.1,806" />
<polyline class="t" points="555,818.1 554.1,826.3" />
<polyline class="t" points="551.8,816.9 551.3,824.2" />
<ellipse class="t" cx="552.5" cy="819.2" rx="1.2" ry="1" transform="rotate(0 552.5 819.2)" />
<path class="t" d="M540.9,821.4C541.1,821.9 541.3,823.9 542.2,824.7C543.2,825.5 545.3,826.3 546.7,826.3C548.1,826.4 549.9,825.4 550.5,825.2" />
<polyline class="t" points="460,711.2 549.2,763.6 549.2,771" />
<polyline class="t" points="523.6,738.8 523.6,747.1 542.6,757.8 546.7,756.2 546.7,749.5" />
<polyline class="t" points="549.2,763.6 543.4,766.9" />
<polyline class="t" points="550,749.5 601.2,779.3" />
<polyline class="t" points="542.6,757.8 587.2,784.2" />
<circle class="t" cx="553.3" cy="766.9" r="2.7" />
<circle class="k" cx="553.3" cy="766.9" r="0.4" />
<circle class="t" cx="563.7" cy="766.1" r="2.7" />
<circle class="k" cx="563.7" cy="766.1" r="0.4" />
<circle class="t" cx="574" cy="778.4" r="2.7" />
<circle class="k" cx="574" cy="778.4" r="0.4" />
<polyline class="t" points="534.3,737.2 537.6,732.2" />
<polyline class="t" points="537.6,732.2 537.6,735.5 542.6,738.3 542.6,743.3" />
<polyline class="t" points="542.6,743.3 550,747.6 555,744.6 555,742.1 551.7,740.5 547.5,742.6 545.1,741.3" />
<path class="t" d="M534.3,728.9C534.9,728.6 536.7,727.1 537.6,727.3C538.6,727.4 539.7,729.3 540.1,729.7" />
<polyline class="t" points="531,728.1 545.9,719.8" />
<ellipse class="t" cx="536.8" cy="729.7" rx="1.6" ry="1.1" transform="rotate(0 536.8 729.7)" />
<ellipse class="t" cx="526.9" cy="731.4" rx="1.6" ry="1.1" transform="rotate(0 526.9 731.4)" />
<polyline class="t" points="558.3,747.9 575.6,738.8 600.4,754.5 585.5,763.6 558.3,747.9" />
<polyline class="t" points="560.7,752 575.6,760.3 577.6,758.6 562.7,750.4 560.7,752" />
<ellipse class="t" cx="559.9" cy="748.2" rx="1.3" ry="1" transform="rotate(0 559.9 748.2)" />
<ellipse class="t" cx="585.2" cy="761.9" rx="1.6" ry="1.2" transform="rotate(0 585.2 761.9)" />
<polyline class="t" points="579.7,771 590.5,765.2 594.6,767.7" />
<path class="t" d="M594.6,767.7C594.2,768.3 592.1,770 592.1,771C592.1,772.1 593.2,773.6 594.6,774C596,774.4 599.1,774.1 600.4,773.5C601.7,772.9 602,770.7 602.4,770.2" />
<polyline class="t" points="579.7,771 579.7,775.1 600.4,787.5" />
<polyline class="t" points="579.7,771 600.4,783.4 602.9,781.8" />
<polyline class="t" points="580.6,777.6 580.6,780.9 592.1,787.5" />
<polyline class="t" points="570.7,726.4 570.7,738.8 579.7,743.3 579.7,730.6 570.7,726.4" />
<polyline class="t" points="570.7,726.4 578.9,722.3 588,726.4 579.7,730.6" />
<polyline class="t" points="588,726.4 588,730.6" />
<polyline class="t" points="580.6,733 580.6,744.6 589.6,747.1 592.9,743.3 592.9,730.6 585.5,727.3 580.6,733" />
<polyline class="t" points="589.6,747.1 589.6,735.5 580.6,733" />
<polyline class="t" points="589.6,735.5 592.9,730.6" />
<polyline class="t" points="602,733.9 618.5,742.6 618.5,757.8 602,749.5 602,733.9" />
<polyline class="t" points="605.3,739.6 616.1,745.4 616.1,754.5" />
<polyline class="t" points="605.3,739.6 605.3,749.5" />
<ellipse class="t" cx="599.1" cy="744.3" rx="1.6" ry="2.4" transform="rotate(0 599.1 744.3)" />
<ellipse class="t" cx="610.6" cy="751.5" rx="2.2" ry="1.4" transform="rotate(0 610.6 751.5)" />
<polyline class="t" points="594.6,731.4 594.6,752.8 600.4,757" />
<polyline class="t" points="611.9,757 611.9,765.2" />
<polyline class="t" points="615.2,757 615.2,766.1" />
<path class="t" d="M611.9,757C612.2,756.8 613,755.8 613.6,755.8C614.1,755.8 615,756.8 615.2,757" />
<ellipse class="t" cx="614.9" cy="767.4" rx="2.6" ry="1.8" transform="rotate(0 614.9 767.4)" />
<ellipse class="t" cx="605" cy="762.4" rx="2.2" ry="2.6" transform="rotate(0 605 762.4)" />
<polyline class="t" points="602.9,757.8 602.9,762.8" />
<polyline class="t" points="604.5,770.2 614.4,775.1 622.7,771" />
<polyline class="t" points="604.5,770.2 604.5,772.7 614.4,778 622.7,773.5" />
<path class="t" d="M607,776C607.4,776.5 608.1,778.6 609.5,779.3C610.8,780 613.6,780.4 615.2,780.1C616.9,779.8 618.7,778 619.4,777.6" />
<polygon class="t" points="625.2,772.7 671.4,747.9 672.2,757.8 669.7,792.5 663.1,812.3 625.2,832.9" />
<ellipse class="t" cx="649.6" cy="768.5" rx="1.2" ry="1.5" transform="rotate(0 649.6 768.5)" />
<ellipse class="t" cx="638" cy="781.8" rx="1.2" ry="1.5" transform="rotate(0 638 781.8)" />
<ellipse class="t" cx="649.6" cy="781.3" rx="1.2" ry="1.5" transform="rotate(0 649.6 781.3)" />
<ellipse class="t" cx="627.1" cy="782.1" rx="1.2" ry="1.5" transform="rotate(0 627.1 782.1)" />
<ellipse class="t" cx="627.1" cy="794.5" rx="1.2" ry="1.5" transform="rotate(0 627.1 794.5)" />
<ellipse class="t" cx="655.7" cy="801.1" rx="1.2" ry="1.5" transform="rotate(0 655.7 801.1)" />
<ellipse class="t" cx="655.7" cy="806.5" rx="1.2" ry="1.5" transform="rotate(0 655.7 806.5)" />
<ellipse class="t" cx="626.8" cy="818.1" rx="1.2" ry="1.5" transform="rotate(0 626.8 818.1)" />
<polyline class="t" points="625.2,772.7 622.7,771" />
<polyline class="t" points="626.8,719.8 626.8,771.3" />
<polyline class="t" points="626.8,719.8 662.8,700.8" />
<polyline class="t" points="626.8,771.3 671.4,747.9" />
<polyline class="t" points="637.5,738 659.8,725.6 660.7,747.9 638.4,760.3 637.5,738" />
<circle class="t" cx="639.2" cy="738.8" r="0.7" />
<circle class="t" cx="659" cy="727.3" r="0.7" />
<circle class="t" cx="639.2" cy="758.6" r="0.7" />
<ellipse class="t" cx="652.4" cy="717.3" rx="7" ry="9" transform="rotate(30 652.4 717.3)" />
<circle class="t" cx="662.8" cy="711.6" r="0.6" />
<circle class="t" cx="633.1" cy="728.9" r="0.6" />
<circle class="t" cx="647.4" cy="713.2" r="0.6" />
<circle class="t" cx="657.4" cy="726.4" r="0.6" />
<circle class="t" cx="647.9" cy="727.3" r="0.6" />
<polyline class="t" points="659.8,747.9 665.6,744.6 666.4,747.1 660.7,749.5" />
<polyline class="t" points="666.4,745.4 681.3,733" />
<polyline class="t" points="592.1,814 623.5,832.1" />
<polyline class="t" points="593.8,812.3 622.7,828.8" />
<polyline class="t" points="623.5,805.7 623.5,832.1" />
<polyline class="t" points="625.2,832.9 623.5,832.1" />
<polyline class="t" points="600.4,779.3 613.6,785.9 613.6,811 600.4,803.2 600.4,779.3" />
<polyline class="t" points="613.6,785.9 622.7,780.9" />
<polyline class="t" points="613.6,811 622.7,806" />
<polyline class="t" points="602,782.6 602,800.7" />
<polyline class="t" points="609.5,785.9 609.5,807.3" />
<path class="t" d="M581.4,809C581.5,810.1 581.4,814 582.2,815.6C583,817.2 585,818.4 586.3,818.6C587.7,818.7 589.8,816.8 590.5,816.4" />
<polyline class="t" points="581.4,809 590.5,807.3 590.5,816.4" />
<polyline class="t" points="585.5,808.2 585.5,818.1" />
<polyline class="t" points="601.2,809.8 601.2,815.6" />
<polyline class="t" points="604.5,809.8 604.5,816.4" />
<path class="t" d="M601.2,809.8C601.5,809.6 602.3,808.7 602.9,808.7C603.4,808.7 604.2,809.6 604.5,809.8" />
<polyline class="t" points="587.2,790 597.1,785.9" />
<polyline class="t" points="585.5,792.5 592.1,797.4" />
<path class="t" d="M594.6,790C595,789.7 596.1,788.4 597.1,788.4C598,788.4 599.9,789 600.4,790C600.9,791 600.7,793.2 600,794.1C599.4,795.1 596.9,795.5 596.3,795.8" />
<polyline class="t" points="619.4,820.6 619.4,827.2" />
<path class="t" d="M619.4,820.6C619.6,820.3 620.1,818.9 620.5,818.9C620.9,818.9 621.6,820.3 621.8,820.6" />
<polygon class="t" points="540.9,700 556.6,708.3 556.6,720.6 540.9,712.4" />
<circle class="k" cx="543.1" cy="704.1" r="0.3" />
<circle class="k" cx="543.1" cy="706.6" r="0.3" />
<circle class="k" cx="543.1" cy="709.1" r="0.3" />
<circle class="k" cx="543.1" cy="711.6" r="0.3" />
<circle class="k" cx="545.5" cy="705.5" r="0.3" />
<circle class="k" cx="545.5" cy="707.9" r="0.3" />
<circle class="k" cx="545.5" cy="710.4" r="0.3" />
<circle class="k" cx="545.5" cy="712.9" r="0.3" />
<circle class="k" cx="548" cy="706.8" r="0.3" />
<circle class="k" cx="548" cy="709.2" r="0.3" />
<circle class="k" cx="548" cy="711.7" r="0.3" />
<circle class="k" cx="548" cy="714.2" r="0.3" />
<circle class="k" cx="550.5" cy="708.1" r="0.3" />
<circle class="k" cx="550.5" cy="710.6" r="0.3" />
<circle class="k" cx="550.5" cy="713" r="0.3" />
<circle class="k" cx="550.5" cy="715.5" r="0.3" />
<circle class="k" cx="553" cy="709.4" r="0.3" />
<circle class="k" cx="553" cy="711.9" r="0.3" />
<circle class="k" cx="553" cy="714.4" r="0.3" />
<circle class="k" cx="553" cy="716.8" r="0.3" />
<polyline class="t" points="556.6,721.1 556.6,727.3" />
<ellipse class="t" cx="556.9" cy="728.4" rx="2.2" ry="2.6" transform="rotate(0 556.9 728.4)" />
<ellipse class="t" cx="563.7" cy="731.7" rx="2.4" ry="1.6" transform="rotate(0 563.7 731.7)" />
<polyline class="t" points="559.1,709.9 559.1,721.5" />
<polyline class="t" points="561.6,711.6 561.6,718.2" />
<polyline class="t" points="564,713.2 564,719.8" />
<polyline class="t" points="499.6,706.6 511.5,713.2 523.6,707.4" />
<polyline class="t" points="499.6,709.9 511.5,716.5 523.6,710.7" />
<polyline class="t" points="511.5,713.2 511.5,716.5" />
<ellipse class="t" cx="511.5" cy="719.5" rx="5.8" ry="2.8" transform="rotate(0 511.5 719.5)" />
<ellipse class="t" cx="511.5" cy="721.8" rx="5.8" ry="2.8" transform="rotate(0 511.5 721.8)" />
<ellipse class="t" cx="511.5" cy="724.1" rx="5.8" ry="2.8" transform="rotate(0 511.5 724.1)" />
<ellipse class="t" cx="511.5" cy="726.4" rx="5.8" ry="2.8" transform="rotate(0 511.5 726.4)" />
<polyline class="t" points="500.5,710.2 500.5,727.3" />
<polyline class="t" points="522.8,711.6 522.8,735" />
<polyline class="t" points="524.4,710.7 524.4,734.4" />
<polyline class="t" points="498.3,713.2 498.3,728.9" />
<polyline class="t" points="498,727.7 511.5,735.5 522.8,729.7" />
<polyline class="t" points="498,730.6 511.5,738.3 522.8,732.4" />
<polyline class="t" points="509.5,697.5 509.5,705.8" />
<polyline class="t" points="513.2,698 513.2,706.3" />
<path class="t" d="M509.5,697.5C509.8,697.3 510.8,696 511.4,696C512,696.1 512.9,697.7 513.2,698" />
<polyline class="t" points="499.6,706.6 511.5,701.3 523.6,707.4" />
<polyline class="t" points="502.1,703.3 502.1,707.9" />
<polyline class="t" points="504.6,702 504.6,706.6" />
<path class="t" d="M502.1,703.3C502.3,703.1 502.9,702.2 503.3,702C503.7,701.8 504.4,702 504.6,702" />
<polyline class="t" points="517.8,703 517.8,707.4" />
<polyline class="t" points="520.3,704.1 520.3,708.3" />
<path class="t" d="M476.5,713.5C476.8,713 477.2,710.9 478.2,710.2C479.1,709.6 481.2,709.3 482.3,709.6C483.4,709.9 484.4,711.5 484.8,711.9" />
<path class="t" d="M484.8,711.9C485.6,711.6 488.2,710 489.7,710.2C491.2,710.5 493.4,712.3 493.9,713.5C494.3,714.8 492.5,717.1 492.2,717.8" />
<polyline class="t" points="476.5,713.5 476.5,723.5" />
<polyline class="t" points="481.5,715.2 493,718.5" />
<ellipse class="t" cx="488.9" cy="714.9" rx="2" ry="1.3" transform="rotate(0 488.9 714.9)" />
<ellipse class="t" cx="477.8" cy="715.2" rx="1.5" ry="2" transform="rotate(0 477.8 715.2)" />
<polyline class="t" points="478.2,725.1 491.4,732.7 491.4,737.7" />
<polyline class="t" points="479.8,728.4 479.8,735 489.7,740" />
<polyline class="t" points="483.1,726.8 488.1,725.1 493,727.7" />
<path class="t" d="M475.7,726.8C476.1,727.6 476.7,730.3 478.2,731.7C479.7,733.1 483.7,734.5 484.8,735" />
<polyline class="t" points="495.5,720.1 495.5,736.7" />
<polyline class="t" points="497.2,721.1 497.2,737.7" />
<polyline class="t" points="473.2,627.3 473.2,718.5 460,711.2" />
<polyline class="t" points="602,718.2 611.9,723.9 611.9,731.4" />
<polyline class="t" points="602,718.2 602,729.7" />
<polyline class="t" points="603.7,720.6 603.7,730.6" />
<polyline class="t" points="525.2,715.2 534.3,718.2 542.6,713.5" />
<polyline class="t" points="525.2,718.8 535.1,721.5 545.1,715.7" />
<polyline class="t" points="507.9,741.3 523.6,749.5" />
<polyline class="t" points="509.5,744.6 522.8,752" />
<polyline class="t" points="501.3,737.2 501.3,742.9 523.6,754.5" />
<polyline class="t" points="654.3,697.6 659.7,700.6" />
<polyline class="t" points="660.6,700.6 694.1,693.4 701.4,693.4" />
<path class="t" d="M701.4,693.4C701.9,693.7 703.9,694.1 704.6,695.2C705.3,696.3 705.5,697.8 705.5,699.7C705.6,701.7 705.6,704.9 705,707C704.3,709.1 702.3,711.5 701.7,712.4" />
<polyline class="t" points="701.7,712.4 666.1,745" />
<ellipse class="t" cx="695.9" cy="701.5" rx="1" ry="1.2" transform="rotate(0 695.9 701.5)" />
<ellipse class="t" cx="700.5" cy="703.7" rx="1" ry="1.2" transform="rotate(0 700.5 703.7)" />
<ellipse class="t" cx="695.9" cy="706.1" rx="1" ry="1.2" transform="rotate(0 695.9 706.1)" />
<ellipse class="t" cx="691.4" cy="708.4" rx="1" ry="1.2" transform="rotate(0 691.4 708.4)" />
<ellipse class="t" cx="695.9" cy="711" rx="1" ry="1.2" transform="rotate(0 695.9 711)" />
<ellipse class="t" cx="663" cy="711.5" rx="0.7" ry="0.8" transform="rotate(0 663 711.5)" />
<polyline class="t" points="705.9,701.9 715.8,707.3 713.1,769.4 703.2,774.8 704.1,709.7" />
<polyline class="t" points="701.7,712.4 704.1,709.7" />
<polyline class="t" points="679.6,732.3 698.6,742.3" />
<polyline class="t" points="675.1,737.7 698.6,750.8" />
<polyline class="t" points="672,747.1 703.2,764.5" />
<polyline class="t" points="698.6,717.8 698.6,750.8" />
<polyline class="t" points="703.2,752.2 698.6,750.8" />
<ellipse class="t" cx="710.4" cy="714.2" rx="0.9" ry="1.1" transform="rotate(0 710.4 714.2)" />
<ellipse class="t" cx="708.1" cy="765.4" rx="0.9" ry="1.1" transform="rotate(0 708.1 765.4)" />
<polyline class="t" points="666.1,745 672,747.1 672.4,757.6" />
<polyline class="t" points="661.5,746.8 666.1,744.1 667.3,747.1 662.4,749.5 661.5,746.8" />
<path class="t" d="M157.3,588.8L189.5,569M161.2,591L193.4,571.2M165.1,593.2L197.3,573.4M169,595.5L201.2,575.7M172.9,597.7L205.1,577.9M176.8,599.9L209,580.1M180.7,602.1L212.9,582.3M184.6,604.3L216.8,584.5M188.5,606.5L220.7,586.8M192.4,608.8L224.6,589M196.3,611L228.5,591.2M200.2,613.2L232.4,593.4M204.1,615.4L236.3,595.6M208,617.6L240.2,597.8M211.9,619.9L244.1,600.1M215.8,622.1L248,602.3M219.7,624.3L251.8,604.5M223.5,626.5L255.7,606.7M227.4,628.7L259.6,608.9M231.3,631L263.5,611.2M235.2,633.2L267.4,613.4M239.1,635.4L271.3,615.6M243,637.6L275.2,617.8M246.9,639.8L279.1,620M250.8,642L283,622.2M254.7,644.3L286.9,624.5M258.6,646.5L290.8,626.7M262.5,648.7L294.7,628.9M266.4,650.9L298.6,631.1M270.3,653.1L302.5,633.3M274.2,655.4L306.4,635.6M278.1,657.6L310.3,637.8M282,659.8L314.2,640M157.3,588.8L282,659.8M160.9,586.6L285.6,657.6M164.5,584.4L289.2,655.4M168,582.2L292.7,653.2M171.6,580L296.3,651M175.2,577.8L299.9,648.8M178.8,575.6L303.5,646.6M182.3,573.4L307,644.4M185.9,571.2L310.6,642.2M189.5,569L314.2,640" style="stroke-width:.72"/>
<path class="t" d="M304.9,671.4L337.1,652.4M308.7,673.7L341.1,654.6M312.6,676.1L345,656.8M316.4,678.4L349,659M320.2,680.8L353,661.2M324.1,683.1L356.9,663.4M327.9,685.5L360.9,665.7M331.7,687.8L364.9,667.9M335.6,690.1L368.8,670.1M339.4,692.5L372.8,672.3M343.3,694.8L376.8,674.5M347.1,697.2L380.7,676.7M350.9,699.5L384.7,678.9M354.8,701.8L388.7,681.1M358.6,704.2L392.6,683.3M362.4,706.5L396.6,685.5M366.3,708.9L400.6,687.8M370.1,711.2L404.6,690M373.9,713.6L408.5,692.2M377.8,715.9L412.5,694.4M381.6,718.2L416.5,696.6M385.4,720.6L420.4,698.8M389.3,722.9L424.4,701M393.1,725.3L428.4,703.2M397,727.6L432.3,705.4M400.8,729.9L436.3,707.6M404.6,732.3L440.3,709.9M408.5,734.6L444.2,712.1M412.3,737L448.2,714.3M416.1,739.3L452.2,716.5M420,741.7L456.1,718.7M423.8,744L460.1,720.9M304.9,671.4L423.8,744M308.5,669.3L427.8,741.4M312.1,667.2L431.9,738.9M315.6,665.1L435.9,736.3M319.2,663L439.9,733.7M322.8,660.8L444,731.2M326.4,658.7L448,728.6M329.9,656.6L452,726M333.5,654.5L456.1,723.5M337.1,652.4L460.1,720.9" style="stroke-width:.72"/>
<polyline class="t" points="157.3,588.8 157.3,593.3 280.7,663.6" />
<polyline class="t" points="282,659.8 294.4,666.9" />
<polyline class="t" points="314.2,640 326.6,647.4" />
<polyline class="t" points="294.4,666.9 326.6,647.4" />
<polyline class="t" points="305.2,672.5 337.4,653.2" />
<polygon class="tw" points="232.5,593.8 245.7,586.7 326.6,632.6 314.2,640" />
<polyline class="t" points="225.9,590.5 239.1,583" />
<polyline class="t" points="232.5,593.8 245.7,587.2" />
<polyline class="t" points="194.5,562.4 337.4,643.8" />
<polyline class="t" points="189.5,569 194.5,565.7" />
<path class="t" d="M279.6,664C280,664.9 280.5,668.1 282,669.7C283.5,671.4 286.6,673.3 288.6,673.9C290.7,674.4 293.5,673.2 294.4,673" />
<polyline class="t" points="287,675.5 293.6,678.8 294.4,666.9" />
<polyline class="t" points="296.6,668.1 296.6,680.5" />
<path class="t" d="M296.6,680.5C297.2,681.2 298.5,683.8 300.2,684.6C301.9,685.4 304.9,685.7 306.8,685.4C308.7,685.2 310.9,683.4 311.8,682.9" />
<polyline class="t" points="283.7,664 289.5,667.3" />
<polyline class="t" points="285.3,665.6 285.3,668.1" />
<polyline class="t" points="305.2,672.5 305.2,675.5" />
<polyline class="t" points="337.4,550 337.4,642.5" />
<polyline class="t" points="339.8,555 339.8,643.3" />
<path class="t" d="M326.6,647.4C327.4,646.9 329.7,644.8 331.6,644.1C333.5,643.4 336.1,642.5 338.2,643.3C340.2,644.1 342.7,646.5 344,649.1C345.2,651.7 345.3,657.3 345.6,659" />
<path class="t" d="M329.9,649.1C330.8,648.7 333.2,646.3 334.9,646.6C336.5,646.9 338.7,649 339.8,650.7C340.9,652.5 341.2,656.2 341.5,657.3" />
<polyline class="t" points="345.6,659 349.7,659.8" />
<polyline class="t" points="337.4,653.2 360,640" />
<polyline class="t" points="345.6,558.3 360,627.6" />
<polyline class="t" points="342.3,553.3 345.6,558.3 345.6,561.6 342.3,557.4 342.3,553.3" />
<polyline class="t" points="304.9,671.4 299.9,670.6 299.9,675 304.9,675.8 422.9,747.8" />
<path class="t" d="M296.6,675.5C296.9,676.6 296.9,680.4 298.3,682.1C299.6,683.8 302.4,685.5 304.9,685.9C307.3,686.3 311.7,684.8 313.1,684.6" />
<polyline class="t" points="337.1,652.4 328,647.4" />
<polyline class="t" points="344.5,645.8 337.9,641.7 328,647.4 336.2,652.4" />
<path class="t" d="M337.1,652.4C337.8,652 340.1,649.8 341.2,649.9C342.3,650 343,651.8 343.7,653.2C344.4,654.6 345.1,657.3 345.3,658.2" />
<polygon class="tw" points="337.1,652.4 455.2,722.6 460.1,720.9 473.3,717.6 362.7,654 348.6,659.8" />
<polyline class="t" points="348.6,659.8 362.7,654.9" />
<polyline class="t" points="395.7,673 473.3,717.6" />
<polyline class="t" points="473.3,640 473.3,717.6" />
<polyline class="t" points="460.1,720.9 473.3,717.6" />
<polyline class="t" points="423.8,744 460.1,720.9" />
<polyline class="t" points="460.1,720.9 592.1,797.4" />
<polyline class="t" points="427.1,745.7 555,818.1" />
<polyline class="t" points="423,751.5 554.1,826.3" />
<polyline class="t" points="423.8,744 422.9,751.5" />
<path class="t" d="M423.8,744C424,744.3 424.5,745.4 425.1,745.7C425.6,746 426.7,745.7 427.1,745.7" />
<ellipse class="t" cx="424.6" cy="745.7" rx="1.2" ry="1" transform="rotate(0 424.6 745.7)" />
<path class="t" d="M449.4,767.2C449.6,767.9 449.9,770.3 451,771.3C452.1,772.3 454.5,772.9 456,772.9C457.5,772.9 459.4,771.6 460.1,771.3" />
<path class="c" d="M780.8,276C780.8,280 781.2,292.3 781.2,300C781.2,307.7 781.1,315.3 780.6,322C780.1,328.7 779.6,334.5 778.5,340C777.4,345.5 775.9,350.7 774,355C772.1,359.3 769.8,362.9 767,366C764.2,369.1 760.7,371.8 757,373.5C753.3,375.2 749,376.2 745,376.5C741,376.8 737.6,376.8 733,375.5C728.4,374.2 723,372 717.5,369C712,366 704.9,360.5 700,357.5C695.1,354.5 692.2,352.9 688,351C683.8,349.1 679.3,347.2 675,346C670.7,344.8 666.2,344 662,343.6C657.8,343.2 656.2,342.9 650,343.5C643.8,344.1 633.3,345.6 625,347.5C616.7,349.4 608.3,352.3 600,355C591.7,357.7 584.2,360.5 575,363.8C565.8,367.1 555.2,371.1 545,375C534.8,378.9 519.2,385 514,387" />
<path d="M437.9,476.6C437.9,473.9 437.5,465.6 437.9,460.1C438.3,454.5 439.1,448.6 440.4,443.1C441.7,437.5 443.3,431.8 445.8,426.8C448.3,421.8 451.5,417.6 455.3,413.2C459.2,408.8 464.4,404.4 468.9,400.6C473.4,396.8 478.1,393.4 482.5,390.4C486.8,387.4 492.9,384.1 495,382.8" fill="none" stroke="#3a3a3a" stroke-width="13.2" stroke-linecap="butt"/>
<path d="M437.9,476.6C437.9,473.9 437.5,465.6 437.9,460.1C438.3,454.5 439.1,448.6 440.4,443.1C441.7,437.5 443.3,431.8 445.8,426.8C448.3,421.8 451.5,417.6 455.3,413.2C459.2,408.8 464.4,404.4 468.9,400.6C473.4,396.8 478.1,393.4 482.5,390.4C486.8,387.4 492.9,384.1 495,382.8" fill="none" stroke="#a4a4a4" stroke-width="11.8" stroke-linecap="butt"/>
<path d="M437.9,476.6C437.9,473.9 437.5,465.6 437.9,460.1C438.3,454.5 439.1,448.6 440.4,443.1C441.7,437.5 443.3,431.8 445.8,426.8C448.3,421.8 451.5,417.6 455.3,413.2C459.2,408.8 464.4,404.4 468.9,400.6C473.4,396.8 478.1,393.4 482.5,390.4C486.8,387.4 492.9,384.1 495,382.8" fill="none" stroke="#505050" stroke-width="11.8" stroke-dasharray="0.45 0.85"/>
<path d="M437.9,476.6C437.9,473.9 437.5,465.6 437.9,460.1C438.3,454.5 439.1,448.6 440.4,443.1C441.7,437.5 443.3,431.8 445.8,426.8C448.3,421.8 451.5,417.6 455.3,413.2C459.2,408.8 464.4,404.4 468.9,400.6C473.4,396.8 478.1,393.4 482.5,390.4C486.8,387.4 492.9,384.1 495,382.8" fill="none" stroke="#f0f0f0" stroke-width="2.6" stroke-dasharray="4 5.5" stroke-opacity=".5"/>
<ellipse class="t" cx="495" cy="382.8" rx="1.6" ry="6.2" transform="rotate(-31.3 495 382.8)" style="fill:#999;stroke:#3a3a3a;stroke-width:.6"/>
<path d="M453.5,472.3C453.9,469.4 454.5,460.8 455.6,455.3C456.7,449.8 458.3,443.6 460.1,439C461.8,434.4 463,431.7 466.2,427.5C469.3,423.3 474.3,418.3 479.1,413.9C483.8,409.5 489.3,404.9 494.7,401C500.1,397.1 508.5,392.4 511.3,390.7" fill="none" stroke="#3a3a3a" stroke-width="12.6" stroke-linecap="butt"/>
<path d="M453.5,472.3C453.9,469.4 454.5,460.8 455.6,455.3C456.7,449.8 458.3,443.6 460.1,439C461.8,434.4 463,431.7 466.2,427.5C469.3,423.3 474.3,418.3 479.1,413.9C483.8,409.5 489.3,404.9 494.7,401C500.1,397.1 508.5,392.4 511.3,390.7" fill="none" stroke="#a4a4a4" stroke-width="11.2" stroke-linecap="butt"/>
<path d="M453.5,472.3C453.9,469.4 454.5,460.8 455.6,455.3C456.7,449.8 458.3,443.6 460.1,439C461.8,434.4 463,431.7 466.2,427.5C469.3,423.3 474.3,418.3 479.1,413.9C483.8,409.5 489.3,404.9 494.7,401C500.1,397.1 508.5,392.4 511.3,390.7" fill="none" stroke="#505050" stroke-width="11.2" stroke-dasharray="0.45 0.85"/>
<path d="M453.5,472.3C453.9,469.4 454.5,460.8 455.6,455.3C456.7,449.8 458.3,443.6 460.1,439C461.8,434.4 463,431.7 466.2,427.5C469.3,423.3 474.3,418.3 479.1,413.9C483.8,409.5 489.3,404.9 494.7,401C500.1,397.1 508.5,392.4 511.3,390.7" fill="none" stroke="#f0f0f0" stroke-width="2.6" stroke-dasharray="4 5.5" stroke-opacity=".5"/>
<ellipse class="t" cx="511.3" cy="390.7" rx="1.6" ry="5.9" transform="rotate(-31.9 511.3 390.7)" style="fill:#999;stroke:#3a3a3a;stroke-width:.6"/>
<path class="c" d="M452.9,488.7C453,489.8 452.7,493.3 453.6,495.3C454.4,497.4 455.7,499.2 458,500.9C460.3,502.6 463.8,504.3 467.5,505.6C471.2,507 476.2,507.9 480.2,508.8C484.1,509.7 488.1,510.1 491.3,510.9C494.4,511.7 496.9,512.3 499.2,513.6C501.4,514.8 503.7,516.7 504.7,518.3C505.8,519.9 505.9,521.7 505.5,523.1C505.1,524.4 504.7,524.9 502.4,526.2C500,527.5 495,529.3 491.3,531C487.6,532.7 483.9,534.7 480.2,536.5C476.5,538.4 472,540.5 469.1,542.1C466.2,543.6 464.7,544.8 462.8,546C460.8,547.3 458.1,549.1 457.2,549.7" stroke-dasharray="3.4 1.5" style="stroke-linecap:butt;stroke-width:1.7"/>
<path class="c" d="M433.7,563.5L456.7,549.3L479.6,558L456.7,572.2ZM433.7,563.5L434.3,572.2L436.9,573L436.9,581.3L463,596.1L476.5,587.4L476.5,571.4M434.3,572.2L452.3,581.7L479.6,566.7L479.6,558M456.7,572.2L452.3,581.7M463,579.3L463,596.1M443.2,568.3L467.8,555.2M444.8,561.1L445.6,569.8M467.8,551.6L468.2,565.1M437.7,566.7L451.9,574.6L475.7,561.5M456.7,558.8L456.7,568.3M456.7,549.3L469.3,542.5L483.6,535.4M469.3,542.5L467.8,551.6M459,548.9L462.2,561.1" stroke-dasharray="3.2 1.5" style="stroke-linecap:butt;stroke-width:1.9"/>
<circle class="k" cx="451.9" cy="581.3" r="2.3" />
<circle class="k" cx="444" cy="569.8" r="1.3" />
<circle class="k" cx="467.8" cy="553.2" r="1.3" />
<path class="k" d="M490.2,587.9C492.3,586.6 497.7,582.8 502.6,580.3C507.4,577.8 513.7,575.2 519.3,572.9C524.9,570.5 530.5,568.3 536.1,566.4C541.8,564.4 547.4,562.6 553.1,561.2C558.7,559.7 564.4,558.5 570.1,557.7C575.7,556.8 581.4,556.3 587,555.9C592.7,555.6 598.3,555.5 603.9,555.5C609.6,555.6 615.2,555.9 620.8,556.4C626.4,557 634.1,558.3 637.4,558.6C640.7,559 636.7,558.1 640.7,558.8C644.7,559.4 654.5,560.8 661.4,562.5C668.4,564.2 675.3,566.5 682.2,568.9C689.1,571.4 696,574.2 702.9,577.2C709.7,580.2 716.6,583.3 723.5,586.9C730.3,590.5 737.2,594.5 744,598.6C750.8,602.7 757.6,606.9 764.5,611.4C771.3,615.9 778.6,621.1 784.9,625.8C791.3,630.5 795.5,633.9 802.5,639.8C809.4,645.7 819.5,654.7 826.7,661.4C833.9,668 839.3,673.4 845.6,679.7C852,686 859.7,693.9 864.6,699.1C869.5,704.3 873.4,708.7 875.1,710.6L872.5,713.1C870.7,711.2 866.7,707 861.6,702.1C856.5,697.1 848.6,689.4 842,683.4C835.5,677.4 829.9,672.4 822.5,666.1C815.1,659.9 804.6,651.4 797.5,645.8C790.4,640.2 786.3,636.9 780.1,632.4C773.8,627.8 766.6,622.9 759.8,618.5C753.1,614.2 746.3,610.2 739.5,606.2C732.8,602.3 726.1,598.3 719.4,594.9C712.6,591.4 706,588.4 699.3,585.6C692.6,582.7 685.8,579.9 679.2,577.6C672.5,575.2 665.9,573.1 659.3,571.5C652.6,569.9 643.1,568.6 639.3,568.1C635.5,567.5 639.6,568.4 636.4,568.1C633.1,567.7 625.4,566.5 619.9,566C614.5,565.5 609.2,565.3 603.8,565.2C598.4,565.2 593,565.3 587.7,565.7C582.3,566.1 577,566.6 571.6,567.4C566.3,568.3 560.9,569.4 555.6,570.9C550.2,572.3 544.9,574 539.5,575.9C534.1,577.8 528.7,580 523.3,582.3C517.8,584.6 512.9,587.1 507,589.7C501,592.3 490.7,596.4 487.4,597.8Z"/>
<polygon class="k" points="889.6,725 878.5,707.5 875,714.6 867.9,723.5" />
<path class="m" d="M780.5,178.1L780.5,200.1M780.5,233.5L780.5,249.4" />
<path class="mw" d="M773.5,199.2L773.5,210.7L787.7,210.7L787.7,199.2Z" style="stroke:none"/>
<ellipse class="mw" cx="780.5" cy="199.2" rx="7.1" ry="3" transform="rotate(0 780.5 199.2)" />
<ellipse class="m" cx="780.5" cy="199.2" rx="4.3" ry="1.6" transform="rotate(0 780.5 199.2)" />
<path class="m" d="M773.5,199.2L773.5,209.6M787.7,199.2L787.7,209.6" />
<path class="m" d="M773.5,203.2A7.1,3 0 0 0 787.7,203.2"/>
<path class="m" d="M773.5,206A7.1,3 0 0 0 787.7,206"/>
<path class="m" d="M773.5,208.7A7.1,3 0 0 0 787.7,208.7"/>
<polygon class="mw" points="768.1,210.7 773.1,206.9 773.5,209.3 780.5,211.4 787.7,209.3 788.1,206.9 793.2,210.7 792.8,216.1 786.4,221.6 774.8,221.6 768.3,216.1" />
<polyline class="m" points="768.1,210.7 774.2,215.9 787.1,215.9 793.2,210.7" />
<path class="m" d="M774.2,215.9L774.6,221.6M787.1,215.9L786.6,221.6" />
<polygon class="mw" points="768.1,217.5 768.3,216.1 774.8,221.6 786.4,221.6 792.8,216.1 793,217.5 792.8,225.9 787.1,231.3 774.2,231.3 768.1,225.9" />
<polyline class="m" points="768.1,217.8 774.2,224 787.1,224 793,217.8" />
<path class="m" d="M774.2,224L774.2,231.3M787.1,224L787.1,231.3" />
<path class="m" d="M774.2,231.3C775.2,231.6 778.4,233.2 780.5,233.2C782.7,233.2 786,231.6 787.1,231.3" />
<polyline class="mw" points="777.3,250 777.3,275.5 784.6,275.5 784.6,250" />
<ellipse class="mw" cx="781" cy="250" rx="3.7" ry="1.2" transform="rotate(0 781 250)" />
<path class="m" d="M777.3,275.5C777.9,275.8 779.7,276.9 781,276.9C782.2,276.9 784,275.8 784.6,275.5" />
<polygon class="mw" points="746.7,62.9 748.1,69.3 768.5,81.7 802.4,61.8 805.3,46.2 768.9,65.2" style="stroke-width:1.5"/>
<path class="t" d="M773.4,76.8L777.8,64.1" />
<path class="t" d="M777.6,74.3L781.9,61.6" />
<path class="t" d="M781.8,71.9L786.1,59.2" />
<path class="t" d="M785.9,69.4L790.3,56.8" />
<path class="t" d="M790.1,67L794.4,54.3" />
<path class="t" d="M794.3,64.5L798.6,51.9" />
<path class="t" d="M798.4,62.1L802.8,49.4" />
<path class="m" d="M778.9,71.8L776.9,62.7" style="stroke-width:1.2"/>
<path class="m" d="M785.2,68L783.2,59" style="stroke-width:1.2"/>
<path class="m" d="M791.5,64.3L789.5,55.3" style="stroke-width:1.2"/>
<path class="m" d="M797.9,60.6L795.9,51.6" style="stroke-width:1.2"/>
<polyline class="m" points="768.9,65.2 768.5,81.7" />
<polygon class="m" points="749.5,64.3 751.7,71.5 757.1,67.9 759.9,75.2 761.2,71.5" />
<polyline class="m" points="769.8,66.1 771.2,73.3 769.8,80.6" />
<polygon class="mw" points="738.6,52.5 743.6,49.8 748.1,49.4 768.9,60.7 806,39 806.9,37.1 811.9,37.6 813.1,40.8 811.4,43 806.5,43 768.9,64.8 765.3,66.1 760.8,64.3 739,54.8" style="stroke-width:1.5"/>
<polygon class="tw" points="747.6,37.1 747.6,49.8 769.8,62.5 803.8,43 803.3,30.4 781.6,17.7" style="stroke-width:.85"/>
<path class="t" d="M747.6,37.1C748.1,36.8 749.2,35.6 750.4,34.9C751.5,34.1 753.6,33.4 754.4,32.6C755.3,31.9 754.6,31 755.3,30.4C756.1,29.7 758,28.7 759,28.6C759.9,28.4 760,30 761.2,29.5C762.4,28.9 764.9,26.7 766.2,25.4C767.5,24.1 767.9,22.5 768.9,21.8C770,21 771.3,21.2 772.5,20.9C773.7,20.5 774.6,20 776.2,19.5C777.7,19 780.7,18 781.6,17.7" />
<polyline class="t" points="747.6,37.1 769.8,48.9 803.3,30.4" />
<polyline class="t" points="769.8,48.9 769.8,62.5" />
<polyline class="t" points="784.8,41.2 784.8,54.3" />
<polyline class="t" points="789.7,38.8 789.7,51.6" />
<polyline class="t" points="785.7,40.8 785.7,53.9" />
<path class="m" d="M749,50.3C750.4,51.2 753.7,53.7 757.1,55.7C760.6,57.7 767.7,61.4 769.8,62.5" />
<ellipse class="m" cx="759.1" cy="38.5" rx="1.1" ry="0.9" transform="rotate(-30 759.1 38.5)" style="stroke-width:.8"/>
<ellipse class="m" cx="764.4" cy="35.3" rx="1.1" ry="0.9" transform="rotate(-30 764.4 35.3)" style="stroke-width:.8"/>
<ellipse class="m" cx="769.5" cy="32.4" rx="1.1" ry="0.9" transform="rotate(-30 769.5 32.4)" style="stroke-width:.8"/>
<ellipse class="m" cx="774.8" cy="29.3" rx="1.1" ry="0.9" transform="rotate(-30 774.8 29.3)" style="stroke-width:.8"/>
<ellipse class="m" cx="780.2" cy="26.3" rx="1.1" ry="0.9" transform="rotate(-30 780.2 26.3)" style="stroke-width:.8"/>
<ellipse class="m" cx="768" cy="43.7" rx="1.1" ry="0.9" transform="rotate(-30 768 43.7)" style="stroke-width:.8"/>
<ellipse class="m" cx="773.2" cy="40.5" rx="1.1" ry="0.9" transform="rotate(-30 773.2 40.5)" style="stroke-width:.8"/>
<ellipse class="m" cx="778.4" cy="37.3" rx="1.1" ry="0.9" transform="rotate(-30 778.4 37.3)" style="stroke-width:.8"/>
<ellipse class="m" cx="783.7" cy="34.3" rx="1.1" ry="0.9" transform="rotate(-30 783.7 34.3)" style="stroke-width:.8"/>
<ellipse class="m" cx="789" cy="31.3" rx="1.1" ry="0.9" transform="rotate(-30 789 31.3)" style="stroke-width:.8"/>
<path class="m" d="M755.3,43C755.6,42.7 756.3,41.5 757.1,41.2C758,40.9 759.4,40.8 760.3,41.2C761.2,41.6 762.2,42.7 762.6,43.5C763,44.3 762.7,45.7 762.8,46.2" style="stroke-width:1.4"/>
<path class="m" d="M788.8,23.6C789,23.3 789.4,22.4 790.2,22.2C790.9,22.1 792.4,22.2 793.3,22.7C794.3,23.1 795.3,24.1 795.6,24.9C795.9,25.8 795.2,27.2 795.2,27.6" style="stroke-width:1.4"/>
<polyline class="m" points="757.6,41.9 761.2,45.7" />
<polyline class="m" points="790.8,23.6 794.4,26.7" />
<polyline class="mw" points="741.8,57.1 741.8,66.1 744.5,66.8 744.5,57.5" style="stroke-width:1.5"/>
<polyline class="m" points="741.8,59.3 744.5,60" />
<polyline class="m" points="741.8,61.6 744.5,62.2" />
<polyline class="m" points="741.8,63.8 744.5,64.5" />
<polyline class="mw" points="763,67.9 763,78.8 765.7,79.5 765.7,68.4" style="stroke-width:1.5"/>
<polyline class="m" points="763,70.2 765.7,70.8" />
<polyline class="m" points="763,72.4 765.7,73.1" />
<polyline class="m" points="763,74.7 765.7,75.3" />
<polyline class="mw" points="807.6,44.8 807.6,53.4 810.4,54.2 810.4,45.3" style="stroke-width:1.5"/>
<polyline class="m" points="807.6,47.1 810.4,47.7" />
<polyline class="m" points="807.6,49.4 810.4,50" />
<polyline class="m" points="807.6,51.6 810.4,52.3" />
<path class="mw" d="M739,52.5C739.5,52.1 740.6,50.3 741.8,49.8C743,49.3 745.2,49.1 746.3,49.4C747.3,49.7 748.3,50.8 748.1,51.6C747.9,52.5 745.8,53.9 745.4,54.3" style="stroke-width:1.5"/>
<path class="mw" d="M760.8,64.3C761.1,64 761.5,62.7 762.6,62.5C763.6,62.3 766.1,62.5 767.1,62.9C768.1,63.4 768.7,64.4 768.5,65.2C768.2,66 766.2,67.1 765.7,67.5" style="stroke-width:1.5"/>
<polyline class="m" points="740,52.5 747.2,51.2" />
<polyline class="m" points="761.7,64.8 768,64.3" />
<path class="m" d="M778.6,79.2L778.6,91.4" />
<polyline class="m" points="744.3,136 744.3,161.5 744.9,163.4 746.8,164.8 767.9,176.8 771.7,177.5 774.8,176.3 816.5,152.2 817.7,149.7 817.7,129.8" />
<polyline class="t" points="771,147.8 771,173.6" />
<polyline class="m" points="772.9,150.7 772.9,165.2 817.1,140" />
<path class="m" d="M776.3,176C776.9,176.4 777.9,178 779.8,178.3C781.6,178.6 784.7,178.6 787.2,177.8C789.7,177 793.2,174.8 794.7,173.6C796.2,172.3 795.9,171.5 796.2,170.2C796.4,168.9 796.2,166.4 796.2,165.6" />
<path class="m" d="M778.8,78.7L778.8,89.9M778.8,94.9L778.8,120.4M780.4,178L780.4,185" />
<path class="t" d="M788.7,87.4L788.7,99.9M791.6,103L791.6,112.3" />
<path class="m" d="M767.9,95.5C767.7,95 766.4,93.5 766.7,92.4C767,91.4 768,90.3 769.8,89.3C771.6,88.3 774.6,87.3 777.3,86.4C780,85.6 783.4,84.5 786,84.3C788.6,84.1 791.7,85.1 792.8,85.2" />
<polyline class="m" points="792.8,85.2 824.6,103" />
<path class="m" d="M767.9,95.5C768.1,96.1 768.3,98 769.2,98.6C770,99.3 772,99.5 772.9,99.3C773.8,99.1 774.5,97.7 774.8,97.4" />
<path class="m" d="M774.8,97.4C774.4,97 772.6,95.7 772.3,94.9C772,94.1 772.1,93.1 772.9,92.4C773.7,91.8 775.1,91.6 777.3,90.9C779.4,90.3 783.9,88.8 786,88.4C788,88.1 789.1,88.6 789.7,88.7" />
<polyline class="m" points="789.7,88.7 804.6,97.4" />
<polyline class="m" points="800.9,87.4 807.8,83.1 810.9,82.7 828.3,93.7 828.5,97.4 822.1,101.4" />
<polyline class="t" points="802.8,87.4 808.6,84 827,94.9" />
<polyline class="m" points="810.9,91.2 823.3,98.6 828.3,95.5" />
<polyline class="m" points="750.5,122.5 788.5,100.5 792.2,98.4" />
<polyline class="t" points="754.2,122.9 789.7,102.6" />
<polyline class="m" points="792.2,98.4 805.9,107.1" />
<polyline class="t" points="792.8,100.5 804.6,107.6" />
<path class="t" d="M789.7,102.6C789.9,102.3 790.4,100.9 791,100.5C791.5,100.2 792.5,100.5 792.8,100.5" />
<path class="m" d="M737.4,124.2C737.4,122.8 737.1,118 737.4,116.1C737.8,114.1 736.4,115.2 739.3,112.3C742.2,109.4 751.8,101.1 754.9,98.6C758,96.2 757,97.5 758,97.6C759,97.8 760.3,98.4 760.8,99.3C761.4,100.2 761.5,102 761.3,103C761.2,104 760.8,104.3 759.8,105.5C758.9,106.6 756.3,108.5 755.5,109.8C754.7,111.2 754.7,112.5 754.9,113.6C755.1,114.6 756,115.5 756.7,116.1C757.5,116.6 758.8,116.6 759.2,116.7" />
<polyline class="m" points="759.2,116.7 767.9,111.3" />
<path class="m" d="M767.9,111.3C768.5,110.3 769.9,106.7 771,104.9C772.2,103.1 774.2,101.2 774.8,100.5" />
<path class="t" d="M767.9,111.3C768.8,110.9 771.6,109.8 772.9,108.6C774.3,107.4 775.5,105 776,104.2" />
<path class="t" d="M740.6,122.9C740.6,121.9 740.3,118.1 740.6,116.7C740.8,115.2 739.5,116.5 741.8,114.2C744.1,111.9 752.2,104.9 754.2,103" />
<polyline class="m" points="733.7,126.6 734.3,129.8 755.5,140.3 766.7,134.5 766.1,132.5" />
<polyline class="m" points="733.7,126.6 744.9,122.3 750.5,122.5" />
<polyline class="m" points="733.7,126.6 754.9,137.2 766.1,132.5" />
<polyline class="t" points="736.8,126 755.5,135.4 762.3,132.2" />
<polyline class="m" points="750.5,122.5 769.8,133.5" />
<path class="m" d="M759.8,139.7C760.9,140.2 763.2,141.6 766.1,142.8C769,144.1 774.2,146.1 777.3,147.2C780.4,148.2 782.4,148.8 784.7,149C787,149.2 789.4,148.9 791,148.4C792.5,147.9 793.4,147 794.1,145.9C794.7,144.9 794.9,143.3 794.7,142.2C794.5,141.1 793.6,139.7 792.8,139.1C792,138.5 790.2,138.6 789.7,138.5" />
<polyline class="m" points="769.8,133.5 787.2,117.9" />
<path class="m" d="M787.2,117.9C787.6,117.7 788.8,116.7 789.7,116.7C790.6,116.7 792,117.2 792.8,117.9C793.6,118.7 794.4,120.7 794.7,121.3" />
<polyline class="m" points="794.7,121.3 789.7,133.5 789.7,138.5" />
<polyline class="t" points="774.2,134.5 789.1,120.4" />
<polyline class="m" points="769.8,133.5 766.1,134.5" />
<path class="t" d="M766.1,137.2C767.5,138 771.5,141 774.8,142.2C778.1,143.4 784.1,144.3 786,144.7" />
<circle class="m" cx="791.3" cy="143.2" r="2.3" />
<circle class="m" cx="791.3" cy="143.2" r="1.1" />
<ellipse class="m" cx="791.6" cy="112.3" rx="5" ry="2.4" transform="rotate(0 791.6 112.3)" />
<ellipse class="m" cx="791.6" cy="112.3" rx="1.6" ry="0.9" transform="rotate(0 791.6 112.3)" />
<polyline class="m" points="786.6,112.3 786.6,117.9" />
<polyline class="m" points="796.6,112.3 796.6,124.8" />
<path class="mw" d="M802.2,136.2C801.4,135.5 801,135 801.2,133.5C801.3,132 802.3,129 803.1,127.3C804,125.5 805.8,124.1 806.5,122.9C807.2,121.8 807.7,121.4 807.4,120.4C807.1,119.5 805.6,118.6 804.6,117.3C803.7,116.1 801.8,114.2 801.5,113C801.2,111.7 801.8,110.9 802.8,109.8C803.7,108.8 805.2,107.7 807.1,106.7C809.1,105.8 811.9,104.9 814.6,104.2C817.3,103.6 821.5,102.9 823.3,103C825.1,103.1 824.9,103.3 825.2,104.9C825.4,106.4 825.6,108.7 824.8,112.3C824,116 821.8,123.1 820.2,126.6C818.6,130.2 816.8,131.8 815.2,133.5C813.7,135.2 812.4,136.1 810.9,136.8C809.3,137.6 807.3,137.9 805.9,137.8C804.4,137.7 802.9,137 802.2,136.2Z" />
<path class="m" d="M807.4,120.4C807.9,120 809.7,117.4 810.2,117.9C810.8,118.5 811.3,122 810.9,123.5C810.4,125.1 808.8,125.6 807.8,127.3C806.7,128.9 805.2,132.4 804.6,133.5" />
<circle class="m" cx="809.6" cy="132.5" r="2.3" />
<circle class="m" cx="809.6" cy="132.5" r="1.1" />
<polyline class="m" points="789.1,131 805.9,121.3" />
<polyline class="t" points="789.7,133.5 804.6,124.8" />
<polyline class="m" points="791,136 802.8,129.1" />
<path class="c" d="M703.8,538C705.1,538.2 708.5,539.2 712,539.5C715.5,539.8 720.3,539.8 725,539.5C729.7,539.2 735,538.8 740,538C745,537.2 746.2,537.2 755,535C763.8,532.8 780,528.8 792.5,525C805,521.2 817.5,517.1 830,512.5C842.5,507.9 855,502.5 867.5,497.5C880,492.5 892.5,487.3 905,482.5C917.5,477.7 930,472.7 942.5,468.8C955,464.8 970.6,461.1 980,458.8C989.4,456.4 991.7,456.2 999,454.5C1006.3,452.8 1015.7,450.4 1024,448.8C1032.3,447.1 1040.7,446.6 1049,444.5C1057.3,442.4 1065.7,439.9 1074,436.2C1082.3,432.6 1090.7,427.3 1099,422.5C1107.3,417.7 1115.7,412.5 1124,407.5C1132.3,402.5 1140.7,397.5 1149,392.5C1157.3,387.5 1165.7,382.1 1174,377.5C1182.3,372.9 1191.5,368.2 1199,365C1206.5,361.8 1212.3,359.6 1219,358C1225.7,356.4 1232.3,355.5 1239,355.5C1245.7,355.5 1252.3,356.6 1259,358C1265.7,359.4 1272.3,361.5 1279,363.8C1285.7,366 1293.6,369 1299,371.2C1304.4,373.5 1308.2,375.2 1311.5,377.5C1314.8,379.8 1317.5,382.4 1319,385C1320.5,387.6 1320.9,390.1 1320.5,393C1320.1,395.9 1318.8,398.8 1316.5,402.5C1314.2,406.2 1310.7,410.8 1306.5,415C1302.3,419.2 1296.9,423.8 1291.5,427.5C1286.1,431.2 1279.2,434.7 1274,437.5C1268.8,440.3 1262.3,443.3 1260,444.5" stroke-dasharray="3 1.6" style="stroke-linecap:butt;stroke-width:1.6"/>
<polygon class="mw" points="1255.2,442.5 1258.5,448.2 1224.8,465 1221.5,459.5" />
<ellipse class="m" cx="1256.8" cy="445.2" rx="3.2" ry="1.6" transform="rotate(60 1256.8 445.2)" />
<path class="c" d="M1221.5,462.5C1219,464 1211.9,467.5 1206.5,471.2C1201.1,475 1194.4,480.2 1189,485C1183.6,489.8 1178.6,495.4 1174,500C1169.4,504.6 1167.3,507.9 1161.5,512.5C1155.7,517.1 1147.3,522.5 1139,527.5C1130.7,532.5 1120.2,538.1 1111.5,542.5C1102.8,546.9 1091.2,551.5 1086.5,553.8C1081.8,556 1087.9,555.2 1083.2,555.8C1078.5,556.4 1066.7,556.5 1058.4,557.5C1050.2,558.4 1041.6,559.8 1033.6,561.6C1025.7,563.4 1017.7,566 1010.5,568.2C1003.4,570.4 997.3,572.2 990.7,574.8C984.1,577.4 977.5,581.4 970.9,583.9C964.3,586.4 957.1,587.6 951.1,589.7C945,591.7 940.1,593.5 934.5,596.3C929,599 923.3,602.3 918,606.2C912.8,610.1 906.7,615 903.2,619.4C899.6,623.8 897.9,628.5 896.6,632.6C895.2,636.8 894.7,640.7 895.2,644.2C895.7,647.6 897.7,651.4 899.5,653.3C901.4,655.1 903.9,655.6 906.5,655.4C909,655.3 912.1,653.5 914.7,652.4C917.3,651.3 920.9,649.4 922.2,648.8" />
<path class="c" d="M1222,464C1219.8,465.4 1212.8,469.4 1209,472.5C1205.2,475.6 1201.5,478.8 1199,482.5C1196.5,486.2 1195.2,490.8 1194,495C1192.8,499.2 1193.2,503.3 1191.5,507.5C1189.8,511.7 1186.9,515 1184,520C1181.1,525 1177.8,532.1 1174,537.5C1170.2,542.9 1165.2,548.6 1161.5,552.5C1157.8,556.4 1157.1,555.9 1151.5,561C1145.9,566.1 1134.6,576.5 1128,583C1121.4,589.5 1115.8,595 1112,600C1108.2,605 1107.3,608.7 1105,612.8C1102.7,616.9 1100.9,620.2 1098,624.4C1095.2,628.5 1092,633.7 1088.1,637.6C1084.3,641.4 1079.1,645.3 1074.9,647.5C1070.8,649.7 1067.5,649.7 1063.4,650.8C1059.2,651.9 1055.1,652.2 1050.2,654.1C1045.2,656 1039.1,659 1033.6,662.3C1028.1,665.7 1022.6,669.8 1017.1,673.9C1011.6,678 1005.6,683.5 1000.6,687.1C995.7,690.7 992.1,693.3 987.4,695.4C982.7,697.4 977.2,698.9 972.5,699.5C967.9,700.1 962.9,699.7 959.3,699C955.7,698.3 953,696.9 951.1,695.4C949.1,693.8 947.9,691.7 947.8,689.6C947.6,687.5 948.6,685.1 950.2,683C951.9,680.9 955.1,678.8 957.7,677.2C960.3,675.6 964.5,674.2 965.9,673.6" />
<path class="c" d="M1085.7,555.5C1083.9,555.8 1078.6,556 1074.9,557.5C1071.2,558.9 1066.9,561.6 1063.4,564.1C1059.8,566.6 1056.6,570.1 1053.5,572.3C1050.3,574.5 1045.9,576.5 1044.4,577.3" />
<path class="c" d="M1123,582.6C1121.3,583.5 1116.5,585.9 1112.9,588C1109.3,590.2 1104.9,593.1 1101.4,595.5C1097.8,597.8 1093.6,600.6 1091.4,602.1C1089.3,603.5 1089,603.7 1088.5,604.1" />
<path class="mw" d="M1025.4,573.5C1026.5,573 1029.6,570.4 1032,570.4C1034.3,570.3 1037.4,571.3 1039.4,573.2C1041.5,575 1043.5,578.9 1044.4,581.4C1045.3,583.9 1045.3,586.2 1044.9,588C1044.5,589.9 1043.4,591.4 1041.9,592.7C1040.4,593.9 1037.1,595.3 1036.1,595.8"/>
<path class="m" d="M1036.1,574.8C1036.7,575.9 1038.7,579.2 1039.4,581.4C1040.1,583.6 1040.4,586 1040.2,588C1040.1,590.1 1038.9,592.8 1038.6,593.8" />
<path class="mw" d="M1070,598.8C1071.1,598.2 1074.2,595.5 1076.6,595.5C1078.9,595.5 1081.9,597 1084,598.8C1086.1,600.6 1088,603.9 1089,606.2C1089.9,608.5 1090.1,610.8 1089.8,612.8C1089.5,614.8 1088.8,616.7 1087.3,618.1C1085.8,619.5 1081.8,620.8 1080.7,621.4"/>
<path class="m" d="M1080.7,599.9C1081.3,601 1083.3,604.1 1084,606.2C1084.8,608.3 1085.2,610.7 1085.2,612.8C1085.1,615 1083.8,618 1083.5,619.1" />
<polygon class="mw" points="998.6,582.3 1017.1,571.2 1036.1,582.3 1036.1,610.8 1017.1,621.9 998.6,610.8" />
<polyline class="m" points="998.6,582.3 1017.1,593.3 1036.1,582.3" />
<polyline class="m" points="1017.1,593.3 1017.1,621.9" />
<polygon class="mw" points="1042.7,607.8 1061.4,596.6 1080.7,607.8 1080.7,636.4 1061.4,647.2 1042.7,636.4" />
<polyline class="m" points="1042.7,607.8 1061.4,618.6 1080.7,607.8" />
<polyline class="m" points="1061.4,618.6 1061.4,647.2" />
<polygon class="mw" points="922.7,626.3 941.2,615.3 960.6,626.3 960.6,655.2 941.6,666 922.7,655.2" />
<polyline class="m" points="922.7,626.3 941.6,637.1 960.6,626.3" />
<polyline class="m" points="941.6,637.1 941.6,666" />
<polygon class="mw" points="966.8,652.4 984.9,640.9 1004.2,652.1 1004.2,680.2 985.4,691.3 966.8,680.5" />
<polyline class="m" points="966.8,652.4 985.4,663.2 1004.2,652.1" />
<polyline class="m" points="985.4,663.2 985.4,691.3" />
<path class="mw" d="M918.9,638.6C921.1,637.3 929.1,631.2 932.4,631C935.7,630.8 937.1,634.5 938.7,637.2C940.2,639.9 941.5,644.3 941.6,647.2C941.8,650 942.1,652.6 939.5,654.6C936.9,656.6 928.5,658.3 926.3,659"/>
<ellipse class="mw" cx="922.2" cy="648.8" rx="8.6" ry="10.6" transform="rotate(-14 922.2 648.8)" />
<ellipse class="m" cx="922.7" cy="649.1" rx="4" ry="4.6" transform="rotate(-14 922.7 649.1)" />
<ellipse class="m" cx="923" cy="649.3" rx="1.8" ry="2.1" transform="rotate(-14 923 649.3)" style="stroke-width:1.3"/>
<path class="m" d="M930.7,633.6C931.7,634.8 935,638 936.2,640.5C937.4,643.1 937.9,646.2 937.8,648.8C937.8,651.4 936.1,655 935.7,656.2" />
<path class="mw" d="M962.6,663.3C964.9,662.1 972.9,656 976.2,655.7C979.5,655.5 980.9,659.3 982.4,662C984,664.7 985.3,669 985.4,671.9C985.6,674.8 985.8,677.4 983.3,679.4C980.7,681.3 972.3,683.1 970.1,683.8"/>
<ellipse class="mw" cx="965.9" cy="673.6" rx="8.6" ry="10.6" transform="rotate(-14 965.9 673.6)" />
<ellipse class="m" cx="966.4" cy="673.9" rx="4" ry="4.6" transform="rotate(-14 966.4 673.9)" />
<ellipse class="m" cx="966.8" cy="674.1" rx="1.8" ry="2.1" transform="rotate(-14 966.8 674.1)" style="stroke-width:1.3"/>
<path class="m" d="M974.5,658.4C975.4,659.5 978.8,662.8 980,665.3C981.1,667.9 981.7,671 981.6,673.6C981.5,676.2 979.8,679.8 979.5,681" />
<path class="m" d="M941.6,670.6L941.6,755M985.4,692.1L985.4,790M1017.1,622.7L1017.1,700M1061.4,647.5L1061.4,725" stroke-dasharray="14 2.5 2.5 2.5" style="stroke-width:.85;stroke:#444"/>
<polyline class="t" points="932.3,803.5 932.3,824.6 1020.6,874.9 1070.5,846.8 1070.5,788.5 1064.4,784.8" />
<polyline class="t" points="1020.6,815.9 1020.6,874.9" />
<polyline class="t" points="1014.3,811.8 1020.6,815.9 1070.5,788.5" />
<polyline class="t" points="1014.3,811.8 1064.4,784.8" />
<ellipse class="t" cx="1025.1" cy="819.8" rx="2.7" ry="3.3" transform="rotate(25 1025.1 819.8)" />
<ellipse class="t" cx="1065.9" cy="796.5" rx="2.7" ry="3.3" transform="rotate(25 1065.9 796.5)" />
<ellipse class="t" cx="1025.1" cy="866.9" rx="2.7" ry="3.3" transform="rotate(25 1025.1 866.9)" />
<ellipse class="t" cx="1065.9" cy="843.3" rx="2.7" ry="3.3" transform="rotate(25 1065.9 843.3)" />
<ellipse class="t" cx="1029.6" cy="836.9" rx="6.8" ry="8.7" transform="rotate(25 1029.6 836.9)" />
<ellipse class="t" cx="1029.1" cy="837.4" rx="5.3" ry="6.8" transform="rotate(25 1029.1 837.4)" />
<ellipse class="t" cx="1028.6" cy="837.9" rx="3.9" ry="5.1" transform="rotate(25 1028.6 837.9)" />
<ellipse class="t" cx="1060.4" cy="833.6" rx="7.8" ry="11.1" transform="rotate(25 1060.4 833.6)" />
<ellipse class="t" cx="1059.9" cy="834.1" rx="6.3" ry="9.2" transform="rotate(25 1059.9 834.1)" />
<ellipse class="t" cx="1059.4" cy="834.6" rx="5" ry="7.5" transform="rotate(25 1059.4 834.6)" />
<polyline class="t" points="1012.3,777.3 1012.3,811.1" />
<polyline class="t" points="1014.3,778 1014.3,811.8" />
<polyline class="t" points="1064.4,751 1064.4,784.8" />
<polyline class="t" points="1064.4,778 1096.4,760" />
<polyline class="t" points="987.8,762.5 1013.4,777.6 1020.6,773.1" />
<path class="t" d="M1020.6,773.1C1020.2,772.4 1018.4,770.2 1018.2,769C1018.1,767.8 1018.7,766.4 1019.7,765.7C1020.7,765 1022.7,764.5 1024.2,764.6C1025.7,764.8 1027.8,765.8 1028.8,766.4C1029.7,767.1 1029.8,768.2 1030,768.6" />
<polyline class="t" points="1030,768.6 1043.8,760.4" />
<path class="t" d="M1043.8,760.4C1043.6,759.5 1042.3,756.5 1042.7,755C1043.2,753.5 1045,752 1046.5,751.4C1048,750.8 1050.3,751.1 1051.8,751.7C1053.2,752.3 1054.7,754.2 1055.2,754.7" />
<polyline class="t" points="1055.2,754.7 1064.6,749.4" />
<polyline class="t" points="1022.4,772.8 1022.4,786.3 1030.7,781.8 1030.7,769" />
<circle class="t" cx="1025" cy="780.3" r="1.7" />
<circle class="t" cx="1025" cy="780.3" r="0.9" />
<circle class="k" cx="1025" cy="780.3" r="0.5" />
<polyline class="t" points="1048,759.2 1048,772 1055.5,768 1055.5,755" />
<circle class="t" cx="1050.7" cy="766" r="1.7" />
<circle class="t" cx="1050.7" cy="766" r="0.9" />
<circle class="k" cx="1050.7" cy="766" r="0.5" />
<polyline class="t" points="999.6,752 1004.1,749.4" />
<path class="t" d="M999.6,752C999.4,751.7 998.2,750.6 998.4,749.9C998.5,749.2 999.8,748.6 1000.6,747.9C1001.4,747.3 1002.7,746.3 1003.2,746" />
<polyline class="t" points="1004.1,749.4 1031.5,730.3 1040.5,735.1" />
<polyline class="t" points="1023.9,735.1 1031.5,730.3" />
<path class="t" d="M1023.9,735.1C1023.7,735.7 1022.3,737.3 1022.4,738.5C1022.6,739.6 1023.7,741.6 1024.7,741.9C1025.7,742.2 1027.8,740.7 1028.4,740.4" />
<polyline class="t" points="1064.6,747.2 1064.6,786.3" />
<polyline class="t" points="1064.6,778.8 1090.5,764.5" />
<polyline class="t" points="942.7,730.6 947.9,729.4" />
<path class="t" d="M947.9,729.4C948.4,729.8 949.7,731.4 950.9,731.8C952.2,732.2 954.3,732.2 955.5,731.8C956.6,731.4 957.7,730.4 957.7,729.4C957.8,728.5 956.1,726.7 955.8,726.1" />
<polyline class="t" points="955.8,726.1 972.8,714.1 978.5,717.4" />
<polyline class="t" points="980.3,717.4 980.3,709.9 986.3,705 988.6,704.3 997.6,709.3" />
<polyline class="t" points="986.3,705 986.3,714.1" />
<polyline class="t" points="944.2,737.4 967.1,750.5" />
<polyline class="t" points="968.3,750.2 968.3,775.5" />
<polyline class="t" points="970.5,750.5 970.5,774.3" />
<polyline class="t" points="970.5,750.5 978,746" />
<path class="t" d="M978,746C977.4,745.6 974.5,744.4 974.3,743.4C974,742.5 975.3,740.9 976.5,740.4C977.8,739.9 980.3,740 981.8,740.4C983.3,740.8 984.9,742.5 985.6,743" />
<polyline class="t" points="985.6,743 1003.6,732.9" />
<path class="t" d="M1003.6,732.9C1003,732.4 1000.1,731 999.9,729.9C999.6,728.8 1000.7,727.1 1002.1,726.4C1003.5,725.7 1006.6,725.5 1008.1,725.8C1009.6,726.1 1010.6,727.9 1011.1,728.4" />
<polyline class="t" points="1011.1,728.4 1019.4,723.4" />
<polyline class="t" points="978.8,750.2 978.8,760.7 984.1,757.7 984.1,747.2" />
<circle class="t" cx="981" cy="755.5" r="1.7" />
<circle class="t" cx="981" cy="755.5" r="0.9" />
<circle class="k" cx="981" cy="755.5" r="0.5" />
<polyline class="t" points="1003.6,735.1 1003.6,746 1009.6,742.7 1009.6,731.4" />
<circle class="t" cx="1006.2" cy="740.4" r="1.7" />
<circle class="t" cx="1006.2" cy="740.4" r="0.9" />
<circle class="k" cx="1006.2" cy="740.4" r="0.5" />
<path class="t" d="M990.1,754.7C990.7,755.1 992.2,756.7 993.8,757C995.5,757.3 998.3,757.1 999.9,756.5C1001.4,755.9 1002.9,754.3 1003.2,753.2C1003.4,752.1 1001.7,750.4 1001.4,749.9" />
<polyline class="t" points="1019.4,722.4 1019.4,740.4" />
<polyline class="t" points="1021.2,723.4 1021.2,739.7" />
<polyline class="t" points="1021.2,739.7 1031.5,733.6" />
<path class="t" d="M1021.2,739.7C1021.4,740.2 1021.6,742.2 1022.4,742.7C1023.3,743.1 1025.2,742.9 1026.2,742.4C1027.1,741.9 1027.8,740.1 1028.1,739.7" />
<polyline class="t" points="1019.4,722.4 1054.8,702.8 1054.8,717.8" />
<path class="t" d="M1045,696.3C1046.1,695.9 1049.6,693.6 1051.8,693.8C1053.9,694 1056.3,695.8 1057.8,697.5C1059.3,699.3 1060.4,702.3 1060.8,704.3C1061.2,706.3 1060.2,708.7 1060.1,709.6" />
<polyline class="t" points="988.6,704.3 1008.9,692.7" />
<polygon class="tw" points="997.6,708.1 1017.2,719.3 1036.7,708.1 1036.7,709.6 1017.2,721 997.6,709.6" />
<polyline class="t" points="997.6,708.1 1017.2,719.3 1036.7,708.1" />
<polyline class="t" points="1017.2,719.3 1017.2,721" />
<polyline class="t" points="1000.9,707.2 1017.2,716.5 1033.4,707.2" />
<polyline class="t" points="997.6,708.1 1017.2,696.8 1036.7,708.1" />
<polyline class="tw" points="1009.3,704.3 1009.3,694.8 1012.6,693 1012.6,702.3" />
<polyline class="tw" points="1022.4,711.1 1022.4,702 1026.2,699.8 1026.2,708.8 1022.4,711.1" />
<path class="m" d="M1016.3,689.2L1016.3,706" style="stroke-width:1.5;stroke:#444"/>
<ellipse class="t" cx="1016.3" cy="706" rx="2.2" ry="1" transform="rotate(0 1016.3 706)" />
<polygon class="tw" points="1041.2,733.6 1060.8,744.9 1080.4,733.6 1080.4,735.1 1060.8,746.6 1041.2,735.1" />
<polyline class="t" points="1041.2,733.6 1060.8,744.9 1080.4,733.6" />
<polyline class="t" points="1060.8,744.9 1060.8,746.6" />
<polyline class="t" points="1044.6,732.7 1060.8,742.1 1077.1,732.7" />
<polyline class="t" points="1041.2,733.6 1060.8,722.4 1080.4,733.6" />
<polyline class="tw" points="1053,729.9 1053,720.4 1056.3,718.6 1056.3,727.9" />
<polyline class="tw" points="1066.1,736.7 1066.1,727.6 1069.8,725.4 1069.8,734.4 1066.1,736.7" />
<path class="m" d="M1059.9,714.8L1059.9,731.5" style="stroke-width:1.5;stroke:#444"/>
<ellipse class="t" cx="1059.9" cy="731.5" rx="2.2" ry="1" transform="rotate(0 1059.9 731.5)" />
<polyline class="t" points="1063.8,748 1098,728.5 1098,759.2 1065,778" />
<polyline class="t" points="1043.8,734.2 1072.5,715.5 1091.2,724.2" />
<path class="t" d="M1091.2,721C1092.3,720.7 1095.4,718.5 1097.5,719.2C1099.6,720 1102.3,723 1103.8,725.5C1105.2,728 1106.5,732 1106.2,734.2C1106,736.5 1103.9,738.6 1102.5,739.2C1101.1,739.9 1098.8,738.2 1098,738" />
<path class="t" d="M1086.2,723.5L1091.2,721" />
<polygon class="tw" points="904.3,763.4 904.3,790.8 929.9,805.9 929.9,778" />
<polyline class="t" points="904.3,763.4 923.9,752" />
<polyline class="t" points="929.9,778 966.7,756.2 966.7,750.2" />
<polyline class="t" points="929.9,805.9 947.9,795.3" />
<polygon class="tw" points="923.1,754 942.7,765.2 962.2,754 962.2,755.5 942.7,766.9 923.1,755.5" />
<polyline class="t" points="923.1,754 942.7,765.2 962.2,754" />
<polyline class="t" points="942.7,765.2 942.7,766.9" />
<polyline class="t" points="926.4,753.1 942.7,762.4 958.9,753.1" />
<polyline class="t" points="923.1,754 942.7,742.7 962.2,754" />
<polyline class="tw" points="934.8,750.2 934.8,740.7 938.2,738.9 938.2,748.2" />
<polyline class="tw" points="947.9,757 947.9,747.9 951.7,745.7 951.7,754.7 947.9,757" />
<path class="m" d="M941.8,735.1L941.8,751.9" style="stroke-width:1.5;stroke:#444"/>
<ellipse class="t" cx="941.8" cy="751.9" rx="2.2" ry="1" transform="rotate(0 941.8 751.9)" />
<ellipse class="tw" cx="915.9" cy="784.5" rx="9.9" ry="12" transform="rotate(-22 915.9 784.5)" />
<ellipse class="tw" cx="908.1" cy="789.3" rx="9.3" ry="11.4" transform="rotate(-22 908.1 789.3)" />
<path class="t" d="M911.1,780.3C911.6,781.3 913.5,784.1 914.1,786.3C914.7,788.6 915.1,791.6 914.8,793.8C914.6,796.1 912.9,798.9 912.6,799.9" />
<circle class="t" cx="906.9" cy="768.7" r="2.1" />
<circle class="t" cx="906.9" cy="768.7" r="1.2" />
<circle class="k" cx="906.9" cy="768.7" r="0.5" />
<circle class="t" cx="924.6" cy="779.1" r="2.1" />
<circle class="t" cx="924.6" cy="779.1" r="1.2" />
<circle class="k" cx="924.6" cy="779.1" r="0.5" />
<circle class="t" cx="924.6" cy="799.6" r="2.1" />
<circle class="t" cx="924.6" cy="799.6" r="1.2" />
<circle class="k" cx="924.6" cy="799.6" r="0.5" />
<polyline class="tw" points="947.8,788.8 947.8,805 973.3,830.6 973.3,803.5" />
<polyline class="t" points="947.8,788.8 973.3,803.5" />
<polyline class="t" points="947.8,788.8 966.8,777.7" />
<polyline class="t" points="973.3,803.5 1010.8,781.8 1010.8,808.8 973.3,830.6" />
<polygon class="tw" points="967.3,776.2 986.8,787.5 1006.3,776.2 1006.3,777.7 986.8,789.1 967.3,777.7" />
<polyline class="t" points="967.3,776.2 986.8,787.5 1006.3,776.2" />
<polyline class="t" points="986.8,787.5 986.8,789.1" />
<polyline class="t" points="970.6,775.3 986.8,784.6 1003,775.3" />
<polyline class="t" points="967.3,776.2 986.8,765 1006.3,776.2" />
<polyline class="tw" points="979,772.5 979,763 982.3,761.2 982.3,770.5" />
<polyline class="tw" points="992.1,779.2 992.1,770.2 995.8,768 995.8,777 992.1,779.2" />
<path class="m" d="M985.9,757.4L985.9,774.1" style="stroke-width:1.5;stroke:#444"/>
<ellipse class="t" cx="985.9" cy="774.1" rx="2.2" ry="1" transform="rotate(0 985.9 774.1)" />
<ellipse class="tw" cx="958.3" cy="810.3" rx="9.9" ry="12.3" transform="rotate(-22 958.3 810.3)" />
<ellipse class="tw" cx="950.8" cy="814.4" rx="9.3" ry="11.7" transform="rotate(-22 950.8 814.4)" />
<path class="t" d="M953.8,805C954.3,806 956.2,808.8 956.8,811.1C957.4,813.3 957.8,816.3 957.5,818.6C957.3,820.9 955.7,823.8 955.3,824.9" />
<circle class="t" cx="950.8" cy="794.5" r="2.1" />
<circle class="t" cx="950.8" cy="794.5" r="1.2" />
<circle class="k" cx="950.8" cy="794.5" r="0.5" />
<circle class="t" cx="968.8" cy="804.7" r="2.1" />
<circle class="t" cx="968.8" cy="804.7" r="1.2" />
<circle class="k" cx="968.8" cy="804.7" r="0.5" />
<circle class="t" cx="968.8" cy="825.3" r="2.1" />
<circle class="t" cx="968.8" cy="825.3" r="1.2" />
<circle class="k" cx="968.8" cy="825.3" r="0.5" />
<text x="682.9" y="54.9" font-size="20.6" text-anchor="middle">2</text>
<text x="683.4" y="149.1" font-size="20.6" text-anchor="middle">1</text>
<text x="861.3" y="219.7" font-size="20.6" text-anchor="middle">3</text>
<text x="854.5" y="346.7" font-size="20.6" text-anchor="middle">4</text>
<text x="896.6" y="116" font-size="20.6" text-anchor="middle">6</text>
<text x="934.8" y="554.4" font-size="20.6" text-anchor="middle">7</text>
<path class="t" d="M697,46.7L748.6,45.3M697.6,143.1L750,149.9M792,217.8L847.7,213.7M781.3,329.3L841.3,336.8M882.5,46L893.9,92.3M902.6,57L898.5,93.7M935.5,561.3L936.3,623.8M941.3,560L981.8,650M948.8,553.8L1010,578.8M948.8,555L1046.3,623.8" />
<text transform="translate(1312.6,16.6) rotate(-31.4)" font-size="4.4" font-weight="bold" letter-spacing="1.3" style="fill:#3a3a3a">98 000</text>
<path class="m" d="M878.9,27.2L878.9,46.2A3.4,1 0 0 0 885.7,46.2L885.7,27.2"/>
<ellipse class="m" cx="882.3" cy="28.1" rx="3.4" ry="1" transform="rotate(0 882.3 28.1)" />
<path class="m" d="M899.3,38L899.3,57A3.1,1 0 0 0 905.5,57L905.5,38"/>
<ellipse class="m" cx="902.4" cy="38.9" rx="3.1" ry="1" transform="rotate(0 902.4 38.9)" />
<path class="k" d="M866.7,33.9C865.1,34.7 860.6,37.3 857.2,38.6C853.8,39.8 849.9,40.7 846.4,41.5C842.8,42.4 838.2,43.1 836,43.4C833.9,43.8 833.8,43.7 833.3,43.7L833.9,49.1C834.3,49.1 834.3,49.1 836.6,48.9C838.9,48.6 844,48.3 847.7,47.8C851.4,47.2 855,46.6 858.6,45.6C862.2,44.7 867.6,42.7 869.4,42.1Z"/>
<polygon class="k" points="817.8,48.3 836.9,36.7 834.4,46.2 838.8,55.7" />
<text class="wm" transform="translate(369.5,687.1) rotate(-31.9) scale(1,0.974)" font-size="180" font-weight="bold" x="0" y="0" style="fill:none;stroke:#000;stroke-width:1px;font-kerning:none" vector-effect="non-scaling-stroke">AutoSoft</text>
</svg>
</body></html>
